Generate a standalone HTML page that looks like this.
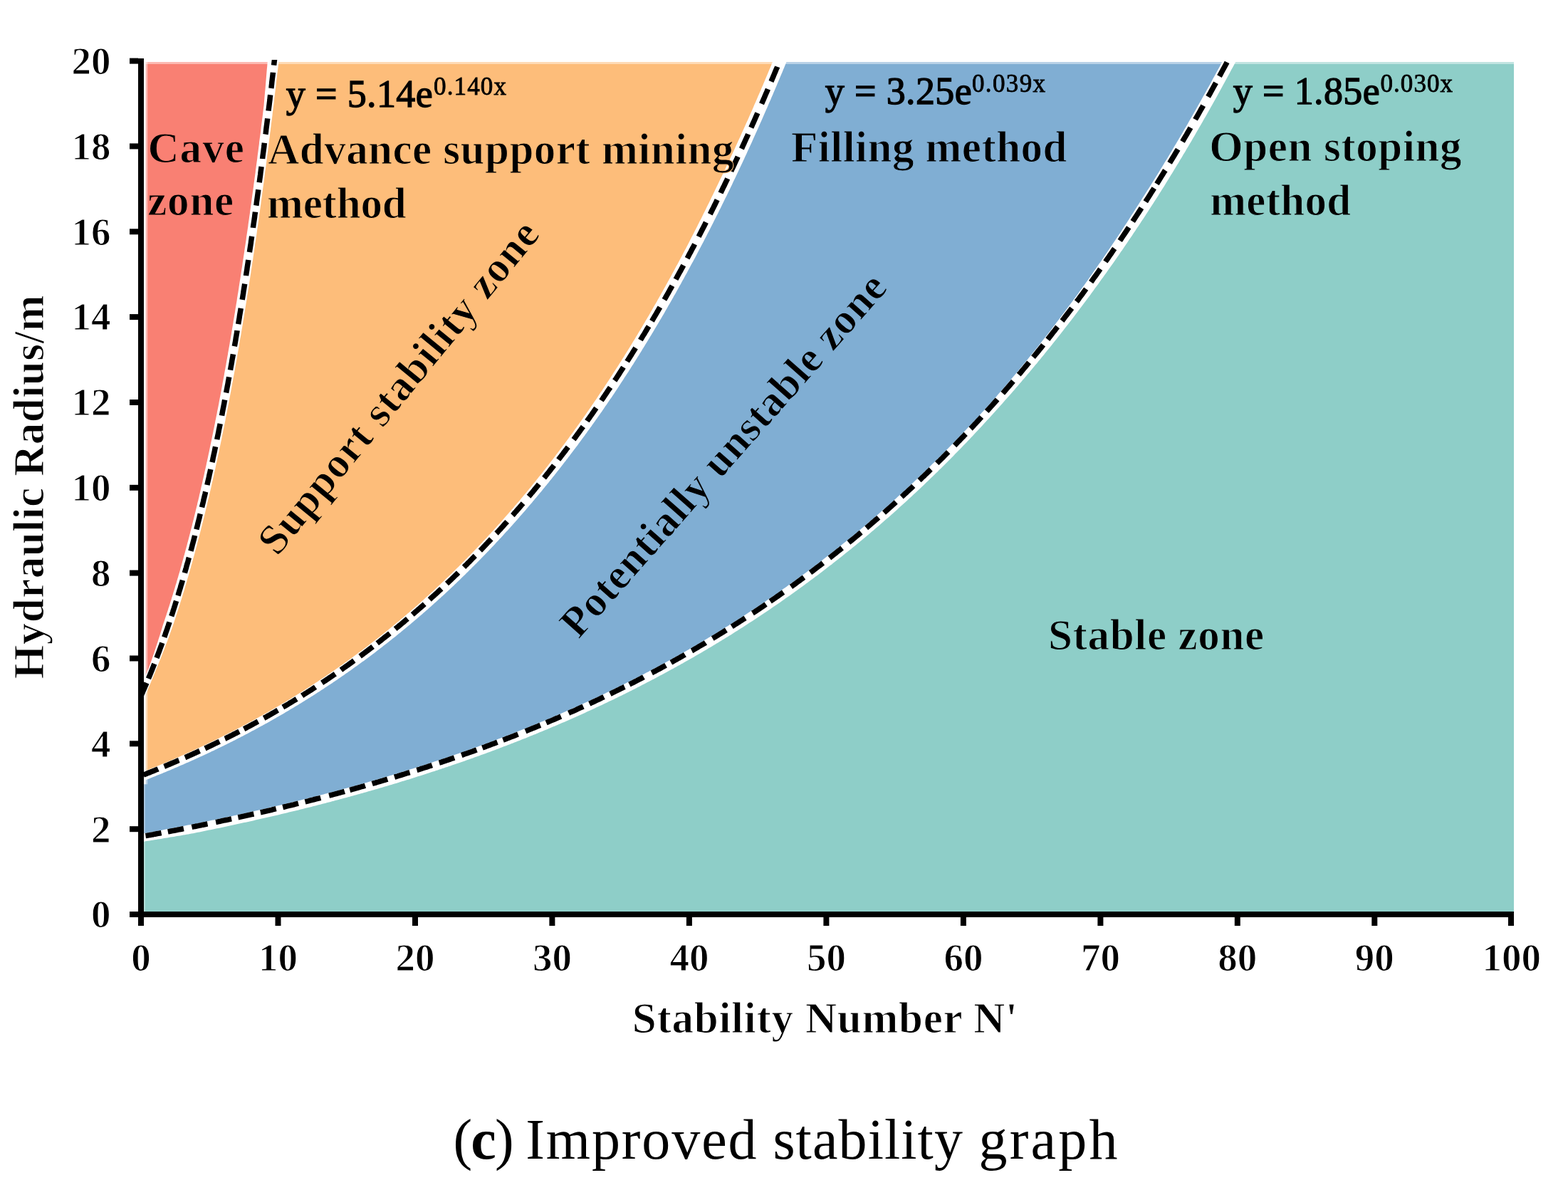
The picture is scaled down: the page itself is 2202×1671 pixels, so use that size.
<!DOCTYPE html>
<html><head><meta charset="utf-8"><title>Improved stability graph</title>
<style>html,body{margin:0;padding:0;background:#fff;}svg{display:block;filter:blur(0.6px);}</style>
</head><body>
<svg xmlns="http://www.w3.org/2000/svg" width="2202" height="1671" viewBox="0 0 2202 1671">
<defs><clipPath id="pc"><rect x="202.0" y="87.0" width="1924.0" height="1193.0"/></clipPath>
<clipPath id="dc"><rect x="198" y="84" width="1930" height="1200"/></clipPath></defs>
<rect width="100%" height="100%" fill="#fff"/>
<g clip-path="url(#pc)">
<polygon fill="#F98073" points="162.0,998.6 182.3,998.6 182.6,998.0 182.9,997.4 183.2,996.8 183.5,996.2 183.8,995.6 184.0,995.0 184.3,994.4 184.6,993.8 184.9,993.2 185.2,992.6 185.5,992.0 185.8,991.4 186.1,990.8 186.3,990.2 186.6,989.6 186.9,988.9 187.2,988.3 187.5,987.7 187.8,987.1 188.1,986.5 188.4,985.9 188.6,985.2 188.9,984.6 189.2,984.0 189.5,983.4 189.8,982.8 190.1,982.1 190.4,981.5 190.7,980.9 190.9,980.2 191.2,979.6 191.5,979.0 191.8,978.3 192.1,977.7 192.4,977.1 192.7,976.4 193.0,975.8 193.2,975.2 193.5,974.5 193.8,973.9 194.1,973.2 194.4,972.6 194.7,971.9 195.0,971.3 195.3,970.6 195.5,970.0 195.8,969.3 196.1,968.7 196.4,968.0 196.7,967.4 197.0,966.7 197.3,966.0 197.6,965.4 197.8,964.7 198.1,964.1 198.4,963.4 198.7,962.7 199.0,962.1 199.3,961.4 199.6,960.7 199.9,960.0 200.1,959.4 200.4,958.7 200.7,958.0 201.0,957.3 201.3,956.7 201.6,956.0 201.9,955.3 202.2,954.6 202.4,953.9 202.7,953.2 203.0,952.5 203.3,951.9 203.6,951.2 203.9,950.5 204.2,949.8 204.5,949.1 204.7,948.4 205.0,947.7 205.3,947.0 205.6,946.3 205.9,945.6 206.2,944.9 206.5,944.2 206.8,943.5 207.0,942.7 207.3,942.0 207.6,941.3 207.9,940.6 208.2,939.9 208.5,939.2 208.8,938.5 209.0,937.7 209.3,937.0 209.6,936.3 209.8,935.5 210.1,934.8 210.4,934.1 210.6,933.3 210.9,932.6 211.2,931.8 211.4,931.1 211.7,930.4 211.9,929.6 212.2,928.9 212.5,928.1 212.7,927.4 213.0,926.6 213.3,925.8 213.5,925.1 213.8,924.3 214.0,923.6 214.3,922.8 214.6,922.1 214.8,921.3 215.1,920.5 215.3,919.8 215.6,919.0 215.9,918.2 216.1,917.4 216.4,916.7 216.7,915.9 216.9,915.1 217.2,914.3 217.4,913.6 217.7,912.8 218.0,912.0 218.2,911.2 218.5,910.4 218.7,909.6 219.0,908.8 219.3,908.1 219.5,907.3 219.8,906.5 220.0,905.7 220.3,904.9 220.6,904.1 220.8,903.3 221.1,902.5 221.3,901.7 221.6,900.9 221.9,900.1 222.1,899.2 222.4,898.4 222.6,897.6 222.9,896.8 223.2,896.0 223.4,895.2 223.7,894.4 223.9,893.5 224.2,892.7 224.5,891.9 224.7,891.1 225.0,890.2 225.2,889.4 225.5,888.6 225.8,887.7 226.0,886.9 226.3,886.1 226.5,885.2 226.8,884.4 227.1,883.5 227.3,882.7 227.6,881.9 227.8,881.0 228.1,880.2 228.3,879.3 228.6,878.5 228.9,877.6 229.1,876.8 229.4,875.9 229.7,875.1 230.0,874.2 230.3,873.3 230.6,872.5 230.9,871.6 231.2,870.8 231.4,869.9 231.7,869.1 232.0,868.2 232.3,867.3 232.6,866.5 232.9,865.6 233.2,864.7 233.5,863.8 233.8,863.0 234.0,862.1 234.3,861.2 234.6,860.3 234.9,859.4 235.2,858.6 235.5,857.7 235.8,856.8 236.1,855.9 236.3,855.0 236.6,854.1 236.9,853.2 237.2,852.3 237.5,851.4 237.8,850.5 238.1,849.6 238.4,848.7 238.6,847.8 238.9,846.9 239.2,846.0 239.5,845.1 239.8,844.1 240.1,843.2 240.4,842.3 240.7,841.4 240.9,840.5 241.2,839.5 241.5,838.6 241.8,837.7 242.1,836.8 242.4,835.8 242.7,834.9 243.0,833.9 243.2,833.0 243.5,832.1 243.8,831.1 244.1,830.2 244.4,829.2 244.7,828.3 245.0,827.3 245.3,826.4 245.6,825.4 245.8,824.5 246.1,823.5 246.4,822.5 246.7,821.6 247.0,820.6 247.3,819.7 247.6,818.7 247.9,817.7 248.1,816.7 248.4,815.8 248.7,814.8 249.0,813.8 249.3,812.8 249.6,811.8 249.9,810.9 250.2,809.9 250.4,808.9 250.7,807.9 251.0,806.9 251.3,805.9 251.6,804.9 251.9,803.9 252.2,802.9 252.5,801.9 252.8,800.9 253.0,799.9 253.3,798.9 253.6,797.8 253.9,796.8 254.2,795.8 254.5,794.8 254.8,793.8 255.1,792.8 255.3,791.7 255.6,790.7 255.9,789.7 256.2,788.6 256.5,787.6 256.8,786.6 257.1,785.5 257.4,784.5 257.6,783.4 257.9,782.4 258.2,781.3 258.5,780.3 258.8,779.2 259.1,778.2 259.4,777.1 259.7,776.1 260.0,775.0 260.2,773.9 260.5,772.9 260.8,771.8 261.1,770.7 261.4,769.7 261.7,768.6 262.0,767.5 262.3,766.4 262.5,765.4 262.8,764.3 263.1,763.2 263.4,762.1 263.7,761.0 264.0,759.9 264.3,758.8 264.6,757.7 264.9,756.6 265.1,755.5 265.4,754.4 265.7,753.3 266.0,752.2 266.3,751.1 266.6,750.0 266.9,748.8 267.2,747.7 267.4,746.6 267.7,745.5 268.0,744.4 268.3,743.2 268.6,742.1 268.9,741.0 269.2,739.8 269.5,738.7 269.8,737.5 270.0,736.4 270.3,735.3 270.6,734.1 270.9,733.0 271.2,731.8 271.5,730.6 271.8,729.5 272.1,728.3 272.3,727.2 272.6,726.0 272.9,724.8 273.2,723.7 273.5,722.5 273.8,721.3 274.1,720.1 274.4,719.0 274.7,717.8 274.9,716.6 275.2,715.4 275.5,714.2 275.8,713.0 276.1,711.8 276.4,710.6 276.7,709.4 277.0,708.2 277.2,707.0 277.5,705.8 277.8,704.6 278.1,703.4 278.4,702.2 278.7,701.0 279.0,699.7 279.3,698.5 279.6,697.3 279.8,696.1 280.1,694.8 280.4,693.6 280.7,692.4 281.0,691.1 281.3,689.9 281.6,688.6 281.9,687.4 282.2,686.1 282.4,684.9 282.7,683.6 283.0,682.4 283.3,681.1 283.6,679.9 283.9,678.6 284.2,677.3 284.5,676.0 284.7,674.8 285.0,673.5 285.3,672.2 285.6,670.9 285.9,669.7 286.2,668.4 286.5,667.1 286.8,665.8 287.1,664.5 287.3,663.2 287.6,661.9 287.9,660.6 288.2,659.3 288.5,658.0 288.8,656.7 289.1,655.3 289.4,654.0 289.7,652.7 289.9,651.4 290.2,650.1 290.5,648.7 290.8,647.4 291.1,646.1 291.4,644.7 291.7,643.4 292.0,642.1 292.2,640.7 292.5,639.4 292.8,638.0 293.1,636.7 293.4,635.3 293.7,633.9 294.0,632.6 294.3,631.2 294.6,629.8 294.8,628.5 295.1,627.1 295.4,625.7 295.7,624.3 296.0,623.0 296.3,621.6 296.6,620.2 296.9,618.8 297.2,617.4 297.4,616.0 297.7,614.6 298.0,613.2 298.3,611.8 298.6,610.4 298.9,609.0 299.2,607.6 299.5,606.1 299.7,604.7 300.0,603.3 300.3,601.9 300.6,600.4 300.9,599.0 301.2,597.6 301.5,596.1 301.8,594.7 302.1,593.2 302.3,591.8 302.6,590.3 302.9,588.9 303.2,587.4 303.5,586.0 303.8,584.5 304.1,583.0 304.4,581.6 304.7,580.1 304.9,578.6 305.2,577.1 305.5,575.7 305.8,574.2 306.1,572.7 306.4,571.2 306.7,569.7 307.0,568.2 307.3,566.7 307.5,565.2 307.8,563.7 308.1,562.2 308.4,560.7 308.7,559.1 309.0,557.6 309.3,556.1 309.6,554.6 309.9,553.0 310.1,551.5 310.4,550.0 310.7,548.4 311.0,546.9 311.3,545.3 311.6,543.8 311.9,542.2 312.2,540.7 312.4,539.1 312.7,537.6 313.0,536.0 313.3,534.4 313.6,532.8 313.9,531.3 314.2,529.7 314.5,528.1 314.8,526.5 315.0,524.9 315.3,523.3 315.6,521.7 315.9,520.1 316.2,518.5 316.5,516.9 316.8,515.3 317.1,513.7 317.4,512.1 317.6,510.5 317.9,508.9 318.2,507.2 318.5,505.6 318.8,504.0 319.1,502.3 319.4,500.7 319.7,499.0 320.0,497.4 320.2,495.7 320.5,494.1 320.8,492.4 321.1,490.8 321.4,489.1 321.7,487.4 322.0,485.8 322.3,484.1 322.6,482.4 322.8,480.7 323.1,479.0 323.4,477.4 323.7,475.7 324.0,474.0 324.3,472.3 324.6,470.6 324.9,468.9 325.2,467.1 325.4,465.4 325.7,463.7 326.0,462.0 326.3,460.3 326.6,458.5 326.9,456.8 327.2,455.1 327.5,453.3 327.7,451.6 328.0,449.8 328.3,448.1 328.6,446.3 328.9,444.6 329.2,442.8 329.5,441.0 329.8,439.3 330.1,437.5 330.3,435.7 330.6,433.9 330.9,432.1 331.2,430.4 331.5,428.6 331.8,426.8 332.1,425.0 332.4,423.2 332.7,421.4 332.9,419.5 333.2,417.7 333.5,415.9 333.8,414.1 334.1,412.3 334.4,410.4 334.7,408.6 335.0,406.8 335.3,404.9 335.5,403.1 335.8,401.2 336.1,399.4 336.4,397.5 336.7,395.6 337.0,393.8 337.3,391.9 337.6,390.0 337.9,388.2 338.1,386.3 338.4,384.4 338.7,382.5 339.0,380.6 339.3,378.7 339.6,376.8 339.9,374.9 340.2,373.0 340.5,371.1 340.7,369.2 341.0,367.2 341.3,365.3 341.6,363.4 341.9,361.5 342.2,359.5 342.5,357.6 342.8,355.6 343.1,353.7 343.3,351.7 343.6,349.8 343.9,347.8 344.2,345.8 344.5,343.9 344.8,341.9 345.1,339.9 345.4,337.9 345.7,335.9 345.9,334.0 346.2,332.0 346.5,330.0 346.8,328.0 347.1,325.9 347.4,323.9 347.7,321.9 348.0,319.9 348.3,317.9 348.5,315.8 348.8,313.8 349.1,311.8 349.4,309.7 349.7,307.7 350.0,305.6 350.3,303.6 350.6,301.5 350.9,299.4 351.1,297.4 351.4,295.3 351.7,293.2 352.0,291.1 352.3,289.1 352.6,287.0 352.9,284.9 353.2,282.8 353.5,280.7 353.7,278.6 354.0,276.4 354.3,274.3 354.6,272.2 354.9,270.1 355.2,268.0 355.5,265.8 355.8,263.7 356.1,261.5 356.3,259.4 356.6,257.2 356.9,255.1 357.2,252.9 357.5,250.7 357.8,248.6 358.1,246.4 358.4,244.2 358.7,242.0 358.9,239.8 359.2,237.6 359.5,235.4 359.8,233.2 360.1,231.0 360.4,228.8 360.7,226.6 361.0,224.4 361.3,222.2 361.5,219.9 361.8,217.7 362.1,215.4 362.4,213.2 362.7,211.0 363.0,208.7 363.3,206.4 363.6,204.2 363.9,201.9 364.1,199.6 364.4,197.3 364.7,195.1 365.0,192.8 365.3,190.5 365.6,188.2 365.9,185.9 366.2,183.6 366.5,181.3 366.7,178.9 367.0,176.6 367.3,174.3 367.6,172.0 367.9,169.6 368.2,167.3 368.5,164.9 368.8,162.6 369.1,160.2 369.3,157.9 369.6,155.5 369.9,153.1 370.2,150.7 370.5,148.4 370.7,146.0 370.9,143.6 371.1,141.2 371.3,138.7 371.5,136.3 371.7,133.9 371.9,131.5 372.1,129.0 372.4,126.6 372.6,124.2 372.8,121.7 373.0,119.3 373.2,116.8 373.4,114.3 373.6,111.9 373.8,109.4 374.0,106.9 374.2,104.4 374.4,101.9 374.6,99.5 374.8,97.0 375.1,94.5 375.3,91.9 375.5,89.4 375.7,86.9 375.9,84.4 376.1,81.8 376.3,79.3 376.5,76.8 376.7,74.2 376.9,71.7 377.1,69.1 377.3,66.6 377.5,64.0 377.7,61.4 377.9,58.8 378.1,56.2 378.3,53.7 378.5,51.1 378.7,48.5 378.7,57.0 162.0,57.0"/>
<polygon fill="#FDBD7A" points="162.0,1003.1 191.6,1003.1 191.9,1002.5 192.2,1001.9 192.5,1001.3 192.7,1000.7 193.0,1000.1 193.3,999.5 193.6,998.8 193.9,998.2 194.2,997.6 194.5,997.0 194.8,996.4 195.1,995.8 195.4,995.2 195.7,994.6 195.9,993.9 196.2,993.3 196.5,992.7 196.8,992.1 197.1,991.5 197.4,990.8 197.7,990.2 198.0,989.6 198.3,989.0 198.6,988.3 198.9,987.7 199.1,987.1 199.4,986.4 199.7,985.8 200.0,985.2 200.3,984.5 200.6,983.9 200.9,983.2 201.2,982.6 201.5,982.0 201.8,981.3 202.1,980.7 202.3,980.0 202.6,979.4 202.9,978.7 203.2,978.1 203.5,977.4 203.8,976.8 204.1,976.1 204.4,975.5 204.7,974.8 205.0,974.1 205.3,973.5 205.5,972.8 205.8,972.2 206.1,971.5 206.4,970.8 206.7,970.2 207.0,969.5 207.3,968.8 207.6,968.1 207.9,967.5 208.2,966.8 208.5,966.1 208.7,965.4 209.0,964.8 209.3,964.1 209.6,963.4 209.9,962.7 210.2,962.0 210.5,961.4 210.8,960.7 211.1,960.0 211.4,959.3 211.7,958.6 211.9,957.9 212.2,957.2 212.5,956.5 212.8,955.8 213.1,955.1 213.4,954.4 213.7,953.7 214.0,953.0 214.3,952.3 214.6,951.6 214.8,950.9 215.1,950.2 215.4,949.5 215.7,948.8 216.0,948.0 216.3,947.3 216.6,946.6 216.9,945.9 217.2,945.2 217.5,944.5 217.8,943.7 218.0,943.0 218.3,942.3 218.6,941.6 218.9,940.8 219.2,940.1 219.5,939.4 219.8,938.7 220.1,937.9 220.4,937.2 220.7,936.5 221.0,935.7 221.3,935.0 221.7,934.3 222.0,933.5 222.3,932.8 222.6,932.0 222.9,931.3 223.2,930.5 223.5,929.8 223.8,929.0 224.1,928.3 224.4,927.5 224.7,926.8 225.0,926.0 225.3,925.3 225.6,924.5 225.9,923.8 226.2,923.0 226.5,922.2 226.8,921.5 227.1,920.7 227.4,919.9 227.7,919.2 228.0,918.4 228.3,917.6 228.6,916.8 228.9,916.1 229.2,915.3 229.5,914.5 229.8,913.7 230.1,912.9 230.4,912.2 230.7,911.4 231.0,910.6 231.3,909.8 231.6,909.0 231.9,908.2 232.2,907.4 232.5,906.6 232.8,905.8 233.1,905.0 233.4,904.2 233.8,903.4 234.1,902.6 234.4,901.8 234.7,901.0 235.0,900.2 235.3,899.4 235.6,898.6 235.9,897.8 236.2,896.9 236.5,896.1 236.8,895.3 237.1,894.5 237.4,893.7 237.7,892.8 238.0,892.0 238.3,891.2 238.6,890.3 238.9,889.5 239.2,888.7 239.5,887.8 239.8,887.0 240.1,886.2 240.4,885.3 240.7,884.5 241.0,883.6 241.3,882.8 241.6,881.9 241.9,881.1 242.2,880.2 242.5,879.4 242.8,878.5 243.1,877.7 243.4,876.8 243.7,875.9 244.0,875.1 244.3,874.2 244.5,873.3 244.8,872.4 245.1,871.6 245.4,870.7 245.7,869.8 246.0,868.9 246.3,868.1 246.6,867.2 246.9,866.3 247.2,865.4 247.4,864.5 247.7,863.6 248.0,862.7 248.3,861.8 248.6,860.9 248.9,860.0 249.2,859.1 249.5,858.2 249.8,857.3 250.1,856.4 250.4,855.5 250.6,854.6 250.9,853.7 251.2,852.8 251.5,851.9 251.8,851.0 252.1,850.0 252.4,849.1 252.7,848.2 253.0,847.3 253.3,846.3 253.5,845.4 253.8,844.5 254.1,843.5 254.4,842.6 254.7,841.7 255.0,840.7 255.3,839.8 255.6,838.9 255.9,837.9 256.2,837.0 256.4,836.0 256.7,835.1 257.0,834.1 257.3,833.2 257.6,832.2 257.9,831.2 258.2,830.3 258.5,829.3 258.8,828.4 259.1,827.4 259.3,826.4 259.6,825.4 259.9,824.5 260.2,823.5 260.5,822.5 260.8,821.5 261.1,820.6 261.4,819.6 261.7,818.6 262.0,817.6 262.3,816.6 262.5,815.6 262.8,814.6 263.1,813.6 263.4,812.6 263.7,811.6 264.0,810.6 264.3,809.6 264.6,808.6 264.9,807.6 265.2,806.6 265.4,805.6 265.7,804.6 266.0,803.6 266.3,802.6 266.6,801.5 266.9,800.5 267.2,799.5 267.5,798.5 267.8,797.4 268.1,796.4 268.3,795.4 268.6,794.3 268.9,793.3 269.2,792.3 269.5,791.2 269.8,790.2 270.1,789.1 270.4,788.1 270.7,787.0 271.0,786.0 271.2,784.9 271.5,783.9 271.8,782.8 272.1,781.7 272.4,780.7 272.7,779.6 273.0,778.5 273.3,777.5 273.6,776.4 273.9,775.3 274.1,774.2 274.4,773.2 274.7,772.1 275.0,771.0 275.3,769.9 275.6,768.8 275.9,767.7 276.2,766.6 276.5,765.5 276.8,764.4 277.0,763.3 277.3,762.2 277.6,761.1 277.9,760.0 278.2,758.9 278.5,757.8 278.8,756.7 279.1,755.6 279.4,754.5 279.7,753.3 279.9,752.2 280.2,751.1 280.5,750.0 280.8,748.8 281.1,747.7 281.4,746.6 281.7,745.4 282.0,744.3 282.3,743.1 282.6,742.0 282.8,740.8 283.1,739.7 283.4,738.5 283.7,737.4 284.0,736.2 284.3,735.1 284.6,733.9 284.9,732.7 285.2,731.6 285.5,730.4 285.7,729.2 286.0,728.1 286.3,726.9 286.6,725.7 286.9,724.5 287.2,723.3 287.5,722.2 287.8,721.0 288.1,719.8 288.4,718.6 288.6,717.4 288.9,716.2 289.2,715.0 289.5,713.8 289.8,712.6 290.1,711.4 290.4,710.2 290.7,708.9 291.0,707.7 291.2,706.5 291.5,705.3 291.8,704.1 292.1,702.8 292.4,701.6 292.7,700.4 293.0,699.1 293.3,697.9 293.6,696.7 293.9,695.4 294.1,694.2 294.4,692.9 294.7,691.7 295.0,690.4 295.3,689.2 295.6,687.9 295.9,686.7 296.2,685.4 296.5,684.1 296.8,682.9 297.0,681.6 297.3,680.3 297.6,679.0 297.9,677.8 298.2,676.5 298.5,675.2 298.8,673.9 299.1,672.6 299.4,671.3 299.7,670.0 299.9,668.7 300.2,667.4 300.5,666.1 300.8,664.8 301.1,663.5 301.4,662.2 301.7,660.9 302.0,659.6 302.3,658.2 302.6,656.9 302.8,655.6 303.1,654.3 303.4,652.9 303.7,651.6 304.0,650.3 304.3,648.9 304.6,647.6 304.9,646.2 305.2,644.9 305.4,643.5 305.7,642.2 306.0,640.8 306.3,639.5 306.6,638.1 306.9,636.7 307.2,635.4 307.5,634.0 307.8,632.6 308.1,631.2 308.3,629.9 308.6,628.5 308.9,627.1 309.2,625.7 309.5,624.3 309.8,622.9 310.1,621.5 310.4,620.1 310.7,618.7 311.0,617.3 311.2,615.9 311.5,614.5 311.8,613.1 312.1,611.7 312.4,610.2 312.7,608.8 313.0,607.4 313.3,606.0 313.6,604.5 313.8,603.1 314.1,601.7 314.4,600.2 314.7,598.8 315.0,597.3 315.3,595.9 315.6,594.4 315.9,593.0 316.2,591.5 316.5,590.0 316.7,588.6 317.0,587.1 317.3,585.6 317.6,584.2 317.9,582.7 318.2,581.2 318.5,579.7 318.8,578.2 319.1,576.7 319.4,575.2 319.6,573.7 319.9,572.2 320.2,570.7 320.5,569.2 320.8,567.7 321.1,566.2 321.4,564.7 321.7,563.2 322.0,561.7 322.2,560.1 322.5,558.6 322.8,557.1 323.1,555.5 323.4,554.0 323.7,552.5 324.0,550.9 324.3,549.4 324.6,547.8 324.9,546.3 325.1,544.7 325.4,543.1 325.7,541.6 326.0,540.0 326.3,538.4 326.6,536.9 326.9,535.3 327.2,533.7 327.5,532.1 327.7,530.5 328.0,528.9 328.3,527.3 328.6,525.7 328.9,524.1 329.2,522.5 329.5,520.9 329.8,519.3 330.1,517.7 330.4,516.1 330.6,514.5 330.9,512.8 331.2,511.2 331.5,509.6 331.8,507.9 332.1,506.3 332.4,504.7 332.7,503.0 333.0,501.4 333.3,499.7 333.5,498.1 333.8,496.4 334.1,494.7 334.4,493.1 334.7,491.4 335.0,489.7 335.3,488.1 335.6,486.4 335.9,484.7 336.1,483.0 336.4,481.3 336.7,479.6 337.0,477.9 337.3,476.2 337.6,474.5 337.9,472.8 338.2,471.1 338.5,469.4 338.8,467.7 339.0,465.9 339.3,464.2 339.6,462.5 339.9,460.8 340.2,459.0 340.5,457.3 340.8,455.5 341.1,453.8 341.4,452.0 341.6,450.3 341.9,448.5 342.2,446.7 342.5,445.0 342.8,443.2 343.1,441.4 343.4,439.7 343.7,437.9 344.0,436.1 344.3,434.3 344.5,432.5 344.8,430.7 345.1,428.9 345.4,427.1 345.7,425.3 346.0,423.5 346.3,421.7 346.6,419.9 346.9,418.0 347.1,416.2 347.4,414.4 347.7,412.5 348.0,410.7 348.3,408.9 348.6,407.0 348.9,405.2 349.2,403.3 349.5,401.4 349.8,399.6 350.0,397.7 350.3,395.8 350.6,394.0 350.9,392.1 351.2,390.2 351.5,388.3 351.8,386.4 352.1,384.5 352.4,382.6 352.6,380.7 352.9,378.8 353.2,376.9 353.5,375.0 353.8,373.1 354.1,371.2 354.4,369.3 354.7,367.3 355.0,365.4 355.3,363.4 355.5,361.5 355.8,359.6 356.1,357.6 356.4,355.7 356.7,353.7 357.0,351.7 357.3,349.8 357.6,347.8 357.9,345.8 358.1,343.8 358.4,341.9 358.7,339.9 359.0,337.9 359.3,335.9 359.6,333.9 359.9,331.9 360.2,329.9 360.5,327.9 360.8,325.8 361.0,323.8 361.3,321.8 361.6,319.8 361.9,317.7 362.2,315.7 362.5,313.7 362.8,311.6 363.1,309.6 363.4,307.5 363.6,305.4 363.9,303.4 364.2,301.3 364.5,299.2 364.8,297.2 365.1,295.1 365.4,293.0 365.7,290.9 366.0,288.8 366.3,286.7 366.5,284.6 366.8,282.5 367.1,280.4 367.4,278.3 367.7,276.2 368.0,274.0 368.3,271.9 368.6,269.8 368.9,267.6 369.1,265.5 369.4,263.3 369.7,261.2 370.0,259.0 370.3,256.9 370.6,254.7 370.9,252.5 371.2,250.4 371.5,248.2 371.7,246.0 372.0,243.8 372.3,241.6 372.6,239.4 372.9,237.2 373.2,235.0 373.5,232.8 373.8,230.6 374.1,228.3 374.4,226.1 374.6,223.9 374.9,221.7 375.2,219.4 375.5,217.2 375.8,214.9 376.1,212.7 376.4,210.4 376.7,208.1 377.0,205.9 377.2,203.6 377.5,201.3 377.8,199.0 378.1,196.8 378.4,194.5 378.7,192.2 379.0,189.9 379.3,187.6 379.6,185.2 379.9,182.9 380.1,180.6 380.4,178.3 380.7,176.0 381.0,173.6 381.3,171.3 381.6,168.9 381.9,166.6 382.2,164.2 382.5,161.9 382.7,159.5 383.0,157.1 383.3,154.7 383.6,152.4 383.9,150.0 384.2,147.6 384.5,145.2 384.8,142.8 385.1,140.4 385.3,138.0 385.6,135.6 385.9,133.1 386.2,130.7 386.5,128.3 386.8,125.8 387.1,123.4 387.4,121.0 387.7,118.5 388.0,116.1 388.2,113.6 388.5,111.1 388.8,108.7 389.1,106.2 389.4,103.7 389.7,101.2 390.0,98.7 390.3,96.2 390.6,93.7 390.8,91.2 391.1,88.7 391.4,86.2 391.7,83.6 392.0,81.1 392.3,78.6 392.6,76.0 392.9,73.5 393.2,70.9 393.4,68.4 393.7,65.8 394.0,63.2 394.3,60.7 394.6,58.1 394.9,55.5 395.2,52.9 395.5,50.3 395.5,57.0 1108.4,57.0 1108.4,29.0 1107.1,32.4 1105.7,35.8 1104.4,39.1 1103.1,42.4 1101.8,45.7 1100.4,49.1 1099.1,52.4 1097.8,55.7 1096.4,59.0 1095.1,62.2 1093.8,65.5 1092.5,68.8 1091.1,72.0 1089.8,75.2 1088.5,78.5 1087.2,81.7 1085.8,84.9 1084.5,88.1 1083.2,91.3 1081.9,94.5 1080.5,97.7 1079.2,100.8 1077.9,104.0 1076.6,107.1 1075.2,110.3 1073.9,113.4 1072.6,116.5 1071.3,119.7 1069.9,122.8 1068.6,125.9 1067.3,129.0 1066.0,132.0 1064.6,135.1 1063.3,138.2 1062.0,141.2 1060.7,144.3 1059.3,147.3 1058.0,150.4 1056.7,153.4 1055.4,156.4 1054.0,159.4 1052.7,162.4 1051.4,165.4 1050.1,168.4 1048.7,171.4 1047.4,174.3 1046.1,177.3 1044.8,180.3 1043.4,183.2 1042.1,186.1 1040.8,189.1 1039.5,192.0 1038.1,194.9 1036.8,197.8 1035.5,200.7 1034.2,203.6 1032.8,206.5 1031.5,209.4 1030.2,212.2 1028.9,215.1 1027.5,218.0 1026.2,220.8 1024.9,223.6 1023.6,226.5 1022.2,229.3 1020.9,232.1 1019.6,234.9 1018.3,237.7 1016.9,240.5 1015.6,243.3 1014.3,246.1 1013.0,248.8 1011.6,251.6 1010.3,254.3 1009.0,257.1 1007.7,259.8 1006.3,262.6 1005.0,265.3 1003.7,268.0 1002.4,270.7 1001.1,273.4 999.8,276.1 998.5,278.8 997.2,281.5 995.9,284.2 994.5,286.9 993.2,289.5 991.9,292.2 990.6,294.9 989.3,297.5 988.0,300.1 986.7,302.8 985.4,305.4 984.1,308.0 982.7,310.6 981.4,313.2 980.1,315.8 978.8,318.4 977.5,321.0 976.2,323.6 974.9,326.1 973.6,328.7 972.2,331.3 970.9,333.8 969.6,336.3 968.3,338.9 967.0,341.4 965.7,343.9 964.4,346.4 963.1,348.9 961.7,351.4 960.4,353.9 959.1,356.4 957.8,358.9 956.5,361.4 955.2,363.8 953.9,366.3 952.6,368.8 951.3,371.2 949.9,373.6 948.6,376.1 947.3,378.5 946.0,380.9 944.7,383.3 943.4,385.8 942.1,388.2 940.8,390.5 939.4,392.9 938.1,395.3 936.8,397.7 935.5,400.1 934.2,402.4 932.9,404.8 931.6,407.1 930.3,409.5 928.9,411.8 927.6,414.2 926.3,416.5 925.0,418.8 923.7,421.1 922.4,423.4 921.1,425.7 919.7,428.0 918.4,430.3 917.1,432.6 915.8,434.9 914.5,437.1 913.2,439.4 911.9,441.7 910.6,443.9 909.2,446.2 907.9,448.4 906.6,450.6 905.3,452.9 904.0,455.1 902.7,457.3 901.4,459.5 900.0,461.7 898.7,463.9 897.4,466.1 896.1,468.3 894.8,470.5 893.5,472.6 892.2,474.8 890.9,477.0 889.5,479.1 888.2,481.3 886.9,483.4 885.6,485.6 884.3,487.7 883.0,489.8 881.7,492.0 880.3,494.1 879.0,496.2 877.7,498.3 876.4,500.4 875.1,502.5 873.8,504.6 872.5,506.7 871.1,508.8 869.8,510.8 868.5,512.9 867.2,515.0 865.9,517.0 864.6,519.1 863.3,521.1 861.9,523.1 860.6,525.2 859.3,527.2 858.0,529.2 856.7,531.3 855.4,533.3 854.1,535.3 852.7,537.3 851.4,539.3 850.1,541.3 848.8,543.2 847.5,545.2 846.2,547.2 844.9,549.2 843.5,551.1 842.2,553.1 840.9,555.1 839.6,557.0 838.3,558.9 837.0,560.9 835.7,562.8 834.3,564.7 833.0,566.7 831.7,568.6 830.4,570.5 829.1,572.4 827.8,574.3 826.5,576.2 825.1,578.1 823.8,580.0 822.5,581.9 821.2,583.7 819.9,585.6 818.6,587.5 817.2,589.4 815.9,591.2 814.6,593.1 813.3,594.9 812.0,596.8 810.7,598.6 809.4,600.4 808.0,602.2 806.7,604.1 805.4,605.9 804.1,607.7 802.8,609.5 801.5,611.3 800.1,613.1 798.8,614.9 797.5,616.7 796.2,618.5 794.9,620.3 793.6,622.0 792.3,623.8 790.9,625.6 789.6,627.3 788.3,629.1 787.0,630.8 785.7,632.6 784.4,634.3 783.0,636.1 781.7,637.8 780.4,639.5 779.1,641.2 777.8,643.0 776.5,644.7 775.1,646.4 773.8,648.1 772.5,649.8 771.2,651.5 769.9,653.2 768.6,654.9 767.3,656.6 765.9,658.2 764.6,659.9 763.3,661.6 762.0,663.2 760.7,664.9 759.4,666.6 758.0,668.2 756.7,669.8 755.4,671.5 754.1,673.1 752.8,674.8 751.5,676.4 750.1,678.0 748.8,679.6 747.5,681.3 746.2,682.9 744.9,684.5 743.6,686.1 742.2,687.7 740.9,689.3 739.6,690.9 738.3,692.4 737.0,694.0 735.7,695.6 734.3,697.2 733.0,698.7 731.7,700.3 730.4,701.9 729.1,703.4 727.8,705.0 726.4,706.5 725.1,708.1 723.8,709.6 722.5,711.1 721.2,712.7 719.9,714.2 718.5,715.7 717.2,717.3 715.9,718.8 714.6,720.3 713.3,721.8 712.0,723.3 710.6,724.8 709.3,726.3 708.0,727.8 706.7,729.3 705.4,730.7 704.1,732.2 702.7,733.7 701.4,735.2 700.1,736.6 698.8,738.1 697.5,739.6 696.2,741.0 694.8,742.5 693.5,743.9 692.2,745.4 690.9,746.8 689.6,748.2 688.3,749.7 686.9,751.1 685.6,752.5 684.3,753.9 683.0,755.4 681.7,756.8 680.3,758.2 679.0,759.6 677.7,761.0 676.4,762.4 675.1,763.8 673.8,765.2 672.4,766.6 671.1,767.9 669.8,769.3 668.5,770.7 667.2,772.1 665.9,773.4 664.5,774.8 663.2,776.2 661.9,777.5 660.6,778.9 659.3,780.2 657.9,781.6 656.6,782.9 655.3,784.3 654.0,785.6 652.7,786.9 651.4,788.3 650.0,789.6 648.7,790.9 647.4,792.2 646.1,793.5 644.8,794.9 643.5,796.2 642.1,797.5 640.8,798.8 639.5,800.1 638.2,801.4 636.9,802.6 635.5,803.9 634.2,805.2 632.9,806.5 631.6,807.8 630.3,809.0 629.0,810.3 627.6,811.6 626.3,812.8 625.0,814.1 623.7,815.4 622.4,816.6 621.0,817.9 619.7,819.1 618.4,820.4 617.1,821.6 615.8,822.8 614.4,824.1 613.1,825.3 611.8,826.5 610.5,827.7 609.2,829.0 607.9,830.2 606.5,831.4 605.2,832.6 603.9,833.8 602.6,835.0 601.3,836.2 599.9,837.4 598.6,838.6 597.3,839.8 596.0,841.0 594.7,842.2 593.4,843.3 592.0,844.5 590.7,845.7 589.4,846.9 588.1,848.0 586.8,849.2 585.4,850.4 584.1,851.5 582.8,852.7 581.5,853.8 580.2,855.0 578.8,856.1 577.5,857.3 576.2,858.4 574.9,859.5 573.6,860.7 572.2,861.8 570.9,862.9 569.6,864.1 568.3,865.2 567.0,866.3 565.7,867.4 564.3,868.5 563.0,869.6 561.7,870.7 560.4,871.9 559.1,873.0 557.7,874.1 556.4,875.1 555.1,876.2 553.8,877.3 552.5,878.4 551.1,879.5 549.8,880.6 548.5,881.7 547.2,882.7 545.9,883.8 544.5,884.9 543.2,885.9 541.9,887.0 540.6,888.1 539.3,889.1 537.9,890.2 536.6,891.2 535.3,892.3 534.0,893.3 532.7,894.4 531.3,895.4 530.0,896.4 528.7,897.5 527.4,898.5 526.1,899.5 524.7,900.6 523.4,901.6 522.1,902.6 520.8,903.6 519.5,904.6 518.1,905.7 516.8,906.7 515.5,907.7 514.2,908.7 512.9,909.7 511.5,910.7 510.2,911.7 508.9,912.7 507.6,913.7 506.3,914.7 504.9,915.6 503.6,916.6 502.3,917.6 501.0,918.6 499.7,919.6 498.3,920.5 497.0,921.5 495.7,922.5 494.4,923.4 493.1,924.4 491.7,925.4 490.4,926.3 489.1,927.3 487.8,928.2 486.5,929.2 485.1,930.1 483.8,931.1 482.5,932.0 481.2,932.9 479.9,933.9 478.5,934.8 477.2,935.7 475.9,936.7 474.6,937.6 473.3,938.5 471.9,939.4 470.6,940.4 469.3,941.3 468.0,942.2 466.7,943.1 465.3,944.0 464.0,944.9 462.7,945.8 461.4,946.7 460.1,947.6 458.7,948.5 457.4,949.4 456.1,950.3 454.8,951.2 453.4,952.1 452.1,953.0 450.8,953.8 449.5,954.7 448.2,955.6 446.8,956.5 445.5,957.4 444.2,958.2 442.9,959.1 441.6,960.0 440.2,960.8 438.9,961.7 437.6,962.5 436.3,963.4 435.0,964.3 433.6,965.1 432.3,966.0 431.0,966.8 429.7,967.6 428.4,968.5 427.0,969.3 425.7,970.2 424.4,971.0 423.1,971.8 421.7,972.7 420.4,973.5 419.1,974.3 417.8,975.1 416.5,976.0 415.1,976.8 413.8,977.6 412.5,978.4 411.2,979.2 409.9,980.0 408.5,980.9 407.2,981.7 405.9,982.5 404.6,983.3 403.2,984.1 401.9,984.9 400.6,985.7 399.3,986.5 398.0,987.2 396.6,988.0 395.3,988.8 394.0,989.6 392.7,990.4 391.4,991.2 390.0,991.9 388.7,992.7 387.4,993.5 386.1,994.3 384.7,995.0 383.4,995.8 382.1,996.6 380.8,997.3 379.5,998.1 378.1,998.9 376.8,999.6 375.5,1000.4 374.2,1001.1 372.8,1001.9 371.5,1002.6 370.2,1003.4 368.9,1004.1 367.6,1004.9 366.2,1005.6 364.9,1006.3 363.6,1007.1 362.3,1007.8 360.9,1008.5 359.6,1009.3 358.3,1010.0 357.0,1010.7 355.7,1011.5 354.3,1012.2 353.0,1012.9 351.7,1013.6 350.4,1014.3 349.1,1015.1 347.7,1015.8 346.4,1016.5 345.1,1017.2 343.8,1017.9 342.4,1018.6 341.1,1019.3 339.8,1020.0 338.5,1020.7 337.2,1021.4 335.8,1022.1 334.5,1022.8 333.2,1023.5 331.9,1024.2 330.5,1024.9 329.2,1025.6 327.9,1026.2 326.6,1026.9 325.2,1027.6 323.9,1028.3 322.6,1029.0 321.3,1029.6 320.0,1030.3 318.6,1031.0 317.3,1031.6 316.0,1032.3 314.7,1033.0 313.3,1033.6 312.0,1034.3 310.7,1035.0 309.4,1035.6 308.1,1036.3 306.7,1036.9 305.4,1037.6 304.1,1038.2 302.8,1038.9 301.4,1039.5 300.1,1040.2 298.8,1040.8 297.5,1041.5 296.2,1042.1 294.8,1042.7 293.5,1043.4 292.2,1044.0 290.9,1044.7 289.5,1045.3 288.2,1045.9 286.9,1046.5 285.6,1047.2 284.2,1047.8 282.9,1048.4 281.6,1049.0 280.3,1049.7 279.0,1050.3 277.6,1050.9 276.3,1051.5 275.0,1052.1 273.7,1052.7 272.3,1053.3 271.0,1053.9 269.7,1054.5 268.4,1055.2 267.0,1055.8 265.7,1056.4 264.4,1057.0 263.1,1057.6 261.8,1058.1 260.4,1058.7 259.1,1059.3 257.8,1059.9 256.5,1060.5 255.1,1061.1 253.8,1061.7 252.5,1062.3 251.2,1062.9 249.8,1063.4 248.5,1064.0 247.2,1064.6 245.9,1065.2 244.5,1065.7 243.2,1066.3 241.9,1066.9 240.6,1067.5 239.3,1068.0 237.9,1068.6 236.6,1069.2 235.3,1069.7 234.0,1070.3 232.6,1070.8 231.3,1071.4 230.0,1072.0 228.7,1072.5 227.3,1073.1 226.0,1073.6 224.7,1074.2 223.4,1074.7 222.0,1075.3 220.7,1075.8 219.4,1076.4 218.1,1076.9 216.8,1077.4 215.4,1078.0 214.1,1078.5 212.8,1079.1 211.5,1079.6 210.1,1080.1 208.8,1080.7 207.5,1081.2 206.1,1081.7 204.8,1082.3 203.5,1082.8 202.2,1083.3 200.9,1083.9 199.5,1084.4 198.2,1084.9 196.9,1085.5 195.6,1086.0 194.2,1086.5 192.9,1087.0 191.6,1087.5 190.3,1088.1 188.9,1088.6 187.6,1089.1 186.3,1089.6 185.0,1090.1 162.0,1090.1"/>
<polygon fill="#80AED3" points="162.0,1101.3 189.3,1101.3 190.6,1100.7 191.9,1100.2 193.3,1099.7 194.6,1099.2 195.9,1098.7 197.3,1098.1 198.6,1097.6 199.9,1097.1 201.3,1096.6 202.6,1096.1 203.9,1095.5 205.3,1095.0 206.6,1094.5 208.0,1093.9 209.3,1093.4 210.6,1092.9 212.0,1092.3 213.3,1091.8 214.6,1091.3 215.9,1090.7 217.3,1090.2 218.6,1089.7 219.9,1089.1 221.3,1088.6 222.6,1088.0 224.0,1087.5 225.3,1087.0 226.6,1086.4 228.0,1085.9 229.3,1085.3 230.6,1084.8 232.0,1084.2 233.3,1083.7 234.6,1083.1 236.0,1082.5 237.3,1082.0 238.7,1081.4 240.0,1080.9 241.3,1080.3 242.7,1079.7 244.0,1079.2 245.3,1078.6 246.7,1078.0 248.0,1077.4 249.3,1076.9 250.7,1076.3 252.0,1075.7 253.4,1075.1 254.7,1074.6 256.0,1074.0 257.4,1073.4 258.7,1072.8 260.0,1072.2 261.4,1071.6 262.7,1071.1 264.1,1070.5 265.4,1069.9 266.7,1069.3 268.1,1068.7 269.4,1068.1 270.7,1067.5 272.1,1066.9 273.4,1066.3 274.7,1065.7 276.1,1065.1 277.4,1064.5 278.8,1063.8 280.1,1063.2 281.4,1062.6 282.8,1062.0 284.1,1061.4 285.4,1060.8 286.8,1060.2 288.1,1059.5 289.5,1058.9 290.8,1058.3 292.1,1057.7 293.5,1057.0 294.8,1056.4 296.1,1055.8 297.5,1055.1 298.8,1054.5 300.1,1053.9 301.5,1053.2 302.8,1052.6 304.2,1051.9 305.5,1051.3 306.8,1050.6 308.2,1050.0 309.5,1049.3 310.8,1048.7 312.2,1048.0 313.5,1047.4 314.9,1046.7 316.2,1046.1 317.5,1045.4 318.9,1044.7 320.2,1044.1 321.5,1043.4 322.9,1042.7 324.2,1042.1 325.6,1041.4 326.9,1040.7 328.2,1040.0 329.6,1039.4 330.9,1038.7 332.2,1038.0 333.6,1037.3 334.9,1036.6 336.3,1035.9 337.6,1035.3 338.9,1034.6 340.3,1033.9 341.6,1033.2 342.9,1032.5 344.3,1031.8 345.6,1031.1 347.0,1030.4 348.3,1029.7 349.6,1029.0 351.0,1028.3 352.3,1027.5 353.6,1026.8 355.0,1026.1 356.3,1025.4 357.7,1024.7 359.0,1024.0 360.3,1023.2 361.7,1022.5 363.0,1021.8 364.3,1021.1 365.7,1020.3 367.0,1019.6 368.4,1018.9 369.7,1018.1 371.0,1017.4 372.4,1016.6 373.7,1015.9 375.1,1015.2 376.4,1014.4 377.7,1013.7 379.1,1012.9 380.4,1012.1 381.7,1011.4 383.1,1010.6 384.4,1009.9 385.8,1009.1 387.1,1008.4 388.4,1007.6 389.8,1006.8 391.1,1006.0 392.4,1005.3 393.8,1004.5 395.1,1003.7 396.5,1002.9 397.8,1002.2 399.1,1001.4 400.5,1000.6 401.8,999.8 403.1,999.0 404.5,998.2 405.8,997.4 407.2,996.6 408.5,995.8 409.8,995.0 411.2,994.2 412.5,993.4 413.9,992.6 415.2,991.8 416.5,991.0 417.9,990.2 419.2,989.4 420.5,988.6 421.9,987.7 423.2,986.9 424.6,986.1 425.9,985.3 427.2,984.4 428.6,983.6 429.9,982.8 431.3,981.9 432.6,981.1 433.9,980.3 435.3,979.4 436.6,978.6 437.9,977.7 439.3,976.9 440.6,976.0 442.0,975.2 443.3,974.3 444.6,973.5 446.0,972.6 447.3,971.7 448.7,970.9 450.0,970.0 451.3,969.1 452.7,968.2 454.0,967.4 455.3,966.5 456.7,965.6 458.0,964.7 459.4,963.8 460.7,963.0 462.0,962.1 463.4,961.2 464.7,960.3 466.1,959.4 467.4,958.5 468.7,957.6 470.1,956.7 471.4,955.8 472.7,954.9 474.1,953.9 475.4,953.0 476.8,952.1 478.1,951.2 479.4,950.3 480.8,949.3 482.1,948.4 483.5,947.5 484.8,946.6 486.1,945.6 487.5,944.7 488.8,943.7 490.1,942.8 491.5,941.9 492.8,940.9 494.2,940.0 495.5,939.0 496.8,938.1 498.2,937.1 499.5,936.1 500.9,935.2 502.2,934.2 503.5,933.2 504.9,932.3 506.2,931.3 507.6,930.3 508.9,929.3 510.2,928.4 511.6,927.4 512.9,926.4 514.2,925.4 515.6,924.4 516.9,923.4 518.3,922.4 519.6,921.4 520.9,920.4 522.3,919.4 523.6,918.4 525.0,917.4 526.3,916.4 527.6,915.4 529.0,914.3 530.3,913.3 531.7,912.3 533.0,911.3 534.3,910.2 535.7,909.2 537.0,908.2 538.3,907.1 539.7,906.1 541.0,905.0 542.4,904.0 543.7,902.9 545.0,901.9 546.4,900.8 547.7,899.8 549.1,898.7 550.4,897.6 551.7,896.6 553.1,895.5 554.4,894.4 555.8,893.4 557.1,892.3 558.4,891.2 559.8,890.1 561.1,889.0 562.5,887.9 563.8,886.8 565.1,885.7 566.5,884.6 567.8,883.5 569.1,882.4 570.5,881.3 571.8,880.2 573.2,879.1 574.5,878.0 575.8,876.9 577.2,875.7 578.5,874.6 579.9,873.5 581.2,872.3 582.5,871.2 583.9,870.1 585.2,868.9 586.6,867.8 587.9,866.6 589.2,865.5 590.6,864.3 591.9,863.2 593.3,862.0 594.6,860.8 595.9,859.7 597.3,858.5 598.6,857.3 600.0,856.2 601.3,855.0 602.6,853.8 604.0,852.6 605.3,851.4 606.6,850.2 608.0,849.0 609.3,847.8 610.7,846.6 612.0,845.4 613.3,844.2 614.7,843.0 616.0,841.8 617.4,840.6 618.7,839.4 620.0,838.1 621.4,836.9 622.7,835.7 624.1,834.4 625.4,833.2 626.7,832.0 628.1,830.7 629.4,829.5 630.8,828.2 632.1,827.0 633.4,825.7 634.8,824.4 636.1,823.2 637.5,821.9 638.8,820.6 640.1,819.4 641.5,818.1 642.8,816.8 644.2,815.5 645.5,814.2 646.8,812.9 648.2,811.6 649.5,810.3 650.8,809.0 652.2,807.7 653.5,806.4 654.9,805.1 656.2,803.8 657.5,802.5 658.9,801.1 660.2,799.8 661.6,798.5 662.9,797.1 664.2,795.8 665.6,794.5 666.9,793.1 668.3,791.8 669.6,790.4 670.9,789.1 672.3,787.7 673.6,786.3 675.0,785.0 676.3,783.6 677.6,782.2 679.0,780.8 680.3,779.5 681.7,778.1 683.0,776.7 684.3,775.3 685.7,773.9 687.0,772.5 688.4,771.1 689.7,769.7 691.0,768.3 692.4,766.9 693.7,765.4 695.1,764.0 696.4,762.6 697.7,761.1 699.1,759.7 700.4,758.3 701.7,756.8 703.1,755.4 704.4,753.9 705.8,752.5 707.1,751.0 708.4,749.6 709.8,748.1 711.1,746.6 712.5,745.2 713.8,743.7 715.1,742.2 716.5,740.7 717.8,739.2 719.2,737.7 720.5,736.2 721.8,734.7 723.2,733.2 724.5,731.7 725.9,730.2 727.2,728.7 728.5,727.2 729.9,725.6 731.2,724.1 732.6,722.6 733.9,721.0 735.2,719.5 736.6,717.9 737.9,716.4 739.3,714.8 740.6,713.3 741.9,711.7 743.3,710.1 744.6,708.6 746.0,707.0 747.3,705.4 748.6,703.8 750.0,702.2 751.3,700.6 752.7,699.0 754.0,697.4 755.3,695.8 756.7,694.2 758.0,692.6 759.4,691.0 760.7,689.4 762.0,687.7 763.4,686.1 764.7,684.5 766.0,682.8 767.4,681.2 768.7,679.5 770.1,677.9 771.4,676.2 772.7,674.6 774.1,672.9 775.4,671.2 776.8,669.6 778.1,667.9 779.4,666.2 780.8,664.5 782.1,662.8 783.5,661.1 784.8,659.4 786.1,657.7 787.5,656.0 788.8,654.3 790.2,652.5 791.5,650.8 792.8,649.1 794.2,647.4 795.5,645.6 796.9,643.9 798.2,642.1 799.5,640.4 800.9,638.6 802.2,636.8 803.6,635.1 804.9,633.3 806.2,631.5 807.6,629.7 808.9,628.0 810.3,626.2 811.6,624.4 812.9,622.6 814.3,620.8 815.6,619.0 817.0,617.1 818.3,615.3 819.6,613.5 821.0,611.7 822.3,609.8 823.7,608.0 825.0,606.1 826.3,604.3 827.7,602.4 829.0,600.6 830.4,598.7 831.7,596.8 833.0,595.0 834.4,593.1 835.7,591.2 837.0,589.3 838.4,587.4 839.7,585.5 841.1,583.6 842.4,581.7 843.7,579.8 845.1,577.9 846.4,575.9 847.8,574.0 849.1,572.1 850.4,570.1 851.8,568.2 853.1,566.2 854.4,564.3 855.8,562.3 857.1,560.3 858.5,558.4 859.8,556.4 861.1,554.4 862.5,552.4 863.8,550.4 865.1,548.4 866.5,546.4 867.8,544.4 869.1,542.4 870.5,540.3 871.8,538.3 873.1,536.3 874.5,534.2 875.8,532.2 877.1,530.1 878.5,528.1 879.8,526.0 881.1,523.9 882.5,521.9 883.8,519.8 885.2,517.7 886.5,515.6 887.8,513.5 889.2,511.4 890.5,509.3 891.8,507.2 893.2,505.1 894.5,503.0 895.8,500.8 897.2,498.7 898.5,496.6 899.8,494.4 901.2,492.3 902.5,490.1 903.8,487.9 905.2,485.8 906.5,483.6 907.8,481.4 909.2,479.2 910.5,477.0 911.8,474.9 913.2,472.6 914.5,470.4 915.8,468.2 917.2,466.0 918.5,463.8 919.8,461.5 921.2,459.3 922.5,457.1 923.9,454.8 925.2,452.5 926.5,450.3 927.9,448.0 929.2,445.7 930.5,443.5 931.9,441.2 933.2,438.9 934.5,436.6 935.9,434.3 937.2,432.0 938.5,429.6 939.9,427.3 941.2,425.0 942.5,422.7 943.9,420.3 945.2,418.0 946.5,415.6 947.9,413.2 949.2,410.9 950.5,408.5 951.9,406.1 953.2,403.7 954.5,401.3 955.9,398.9 957.2,396.5 958.5,394.1 959.9,391.7 961.2,389.3 962.5,386.8 963.9,384.4 965.2,382.0 966.5,379.5 967.9,377.1 969.2,374.6 970.5,372.1 971.9,369.6 973.2,367.2 974.5,364.7 975.9,362.2 977.2,359.7 978.5,357.2 979.9,354.6 981.2,352.1 982.5,349.6 983.9,347.0 985.2,344.5 986.5,341.9 987.9,339.4 989.2,336.8 990.5,334.2 991.9,331.7 993.2,329.1 994.5,326.5 995.9,323.9 997.2,321.3 998.5,318.7 999.9,316.1 1001.2,313.4 1002.5,310.8 1003.9,308.1 1005.2,305.5 1006.5,302.8 1007.9,300.2 1009.2,297.5 1010.5,294.8 1011.9,292.2 1013.2,289.5 1014.5,286.8 1015.9,284.1 1017.2,281.3 1018.5,278.6 1019.9,275.9 1021.2,273.2 1022.5,270.4 1023.9,267.7 1025.2,264.9 1026.5,262.2 1027.9,259.4 1029.2,256.6 1030.5,253.8 1031.9,251.0 1033.2,248.2 1034.5,245.4 1035.9,242.6 1037.2,239.8 1038.5,236.9 1039.9,234.1 1041.2,231.3 1042.5,228.4 1043.9,225.5 1045.2,222.7 1046.5,219.8 1047.9,216.9 1049.2,214.0 1050.5,211.1 1051.9,208.2 1053.2,205.3 1054.5,202.4 1055.9,199.4 1057.2,196.5 1058.5,193.6 1059.9,190.6 1061.2,187.6 1062.5,184.7 1063.8,181.7 1065.2,178.7 1066.5,175.7 1067.8,172.7 1069.2,169.7 1070.5,166.7 1071.8,163.7 1073.2,160.6 1074.5,157.6 1075.8,154.5 1077.2,151.5 1078.5,148.4 1079.8,145.3 1081.2,142.2 1082.5,139.2 1083.8,136.1 1085.2,132.9 1086.5,129.8 1087.8,126.7 1089.2,123.6 1090.5,120.4 1091.8,117.3 1093.2,114.1 1094.5,111.0 1095.8,107.8 1097.2,104.6 1098.5,101.4 1099.8,98.2 1101.2,95.0 1102.5,91.8 1103.8,88.6 1105.1,85.3 1106.5,82.1 1107.8,78.8 1109.1,75.6 1110.5,72.3 1111.8,69.0 1113.1,65.7 1114.5,62.4 1115.8,59.1 1117.1,55.8 1118.5,52.4 1119.8,49.1 1121.1,45.7 1122.5,42.4 1123.8,39.0 1125.1,35.6 1125.1,57.0 1748.0,57.0 1748.0,26.5 1745.8,30.8 1743.6,35.2 1741.3,39.5 1739.1,43.8 1736.9,48.1 1734.6,52.4 1732.4,56.6 1730.2,60.9 1727.9,65.1 1725.7,69.3 1723.5,73.5 1721.2,77.7 1719.0,81.9 1716.8,86.1 1714.5,90.2 1712.3,94.4 1710.0,98.5 1707.8,102.6 1705.6,106.7 1703.3,110.8 1701.1,114.9 1698.9,119.0 1696.6,123.0 1694.4,127.1 1692.2,131.1 1689.9,135.1 1687.7,139.1 1685.5,143.0 1683.2,147.0 1681.0,151.0 1678.8,154.9 1676.5,158.8 1674.3,162.7 1672.1,166.6 1669.8,170.5 1667.6,174.4 1665.4,178.2 1663.1,182.1 1660.9,185.9 1658.7,189.7 1656.4,193.5 1654.2,197.3 1652.0,201.1 1649.7,204.8 1647.5,208.6 1645.3,212.3 1643.0,216.0 1640.8,219.7 1638.6,223.4 1636.3,227.1 1634.1,230.8 1631.9,234.5 1629.6,238.1 1627.4,241.7 1625.2,245.3 1622.9,249.0 1620.7,252.5 1618.5,256.1 1616.2,259.7 1614.0,263.3 1611.7,266.8 1609.5,270.3 1607.3,273.8 1605.0,277.3 1602.8,280.8 1600.6,284.3 1598.4,287.8 1596.1,291.3 1593.9,294.7 1591.7,298.2 1589.5,301.6 1587.3,305.0 1585.1,308.5 1582.9,311.9 1580.7,315.3 1578.5,318.6 1576.3,322.0 1574.1,325.4 1571.9,328.7 1569.7,332.0 1567.4,335.4 1565.2,338.7 1563.0,342.0 1560.8,345.2 1558.6,348.5 1556.4,351.8 1554.2,355.0 1552.0,358.3 1549.8,361.5 1547.6,364.7 1545.4,367.9 1543.1,371.1 1540.9,374.3 1538.7,377.5 1536.5,380.6 1534.3,383.8 1532.1,386.9 1529.9,390.1 1527.7,393.2 1525.5,396.3 1523.2,399.4 1521.0,402.5 1518.8,405.6 1516.6,408.6 1514.4,411.7 1512.2,414.7 1510.0,417.7 1507.8,420.8 1505.6,423.8 1503.3,426.8 1501.1,429.8 1498.9,432.8 1496.7,435.7 1494.5,438.7 1492.3,441.6 1490.1,444.6 1487.9,447.5 1485.6,450.4 1483.4,453.3 1481.2,456.2 1479.0,459.1 1476.8,462.0 1474.6,464.9 1472.4,467.7 1470.2,470.6 1467.9,473.4 1465.7,476.2 1463.5,479.1 1461.3,481.9 1459.1,484.7 1456.9,487.5 1454.7,490.2 1452.4,493.0 1450.2,495.8 1448.0,498.5 1445.8,501.3 1443.6,504.0 1441.4,506.7 1439.1,509.4 1436.9,512.1 1434.7,514.8 1432.5,517.5 1430.3,520.2 1428.1,522.9 1425.9,525.5 1423.6,528.2 1421.4,530.8 1419.2,533.4 1417.0,536.0 1414.8,538.7 1412.6,541.3 1410.3,543.9 1408.1,546.4 1405.9,549.0 1403.7,551.6 1401.5,554.1 1399.3,556.7 1397.0,559.2 1394.8,561.7 1392.6,564.3 1390.4,566.8 1388.1,569.3 1385.9,571.7 1383.7,574.2 1381.4,576.7 1379.2,579.1 1377.0,581.6 1374.7,584.0 1372.5,586.4 1370.3,588.9 1368.0,591.3 1365.8,593.7 1363.6,596.1 1361.3,598.4 1359.1,600.8 1356.8,603.2 1354.6,605.6 1352.4,607.9 1350.1,610.3 1347.9,612.6 1345.7,614.9 1343.4,617.2 1341.2,619.6 1339.0,621.9 1336.7,624.2 1334.5,626.4 1332.3,628.7 1330.0,631.0 1327.8,633.3 1325.6,635.5 1323.3,637.8 1321.1,640.0 1318.9,642.2 1316.6,644.5 1314.4,646.7 1312.2,648.9 1309.9,651.1 1307.7,653.3 1305.5,655.5 1303.2,657.6 1301.0,659.8 1298.8,662.0 1296.5,664.1 1294.3,666.3 1292.1,668.4 1289.8,670.6 1287.6,672.7 1285.4,674.8 1283.1,676.9 1280.9,679.0 1278.7,681.1 1276.4,683.2 1274.2,685.3 1272.0,687.4 1269.7,689.4 1267.5,691.5 1265.2,693.5 1263.0,695.6 1260.8,697.6 1258.5,699.7 1256.3,701.7 1254.1,703.7 1251.8,705.7 1249.6,707.7 1247.4,709.7 1245.1,711.7 1242.9,713.7 1240.7,715.6 1238.4,717.6 1236.2,719.6 1234.0,721.5 1231.7,723.5 1229.5,725.4 1227.3,727.4 1225.0,729.3 1222.8,731.2 1220.6,733.1 1218.3,735.0 1216.1,736.9 1213.9,738.8 1211.6,740.7 1209.4,742.6 1207.2,744.5 1204.9,746.3 1202.7,748.2 1200.5,750.0 1198.2,751.9 1196.0,753.7 1193.8,755.6 1191.5,757.4 1189.3,759.2 1187.1,761.0 1184.8,762.8 1182.6,764.6 1180.4,766.4 1178.1,768.2 1175.9,770.0 1173.7,771.8 1171.4,773.6 1169.2,775.3 1167.0,777.1 1164.7,778.8 1162.5,780.6 1160.3,782.3 1158.0,784.1 1155.8,785.8 1153.6,787.5 1151.3,789.2 1149.1,790.9 1146.9,792.6 1144.6,794.3 1142.4,796.0 1140.2,797.7 1137.9,799.4 1135.7,801.1 1133.5,802.7 1131.2,804.4 1129.0,806.1 1126.8,807.7 1124.5,809.4 1122.3,811.0 1120.1,812.6 1117.8,814.3 1115.6,815.9 1113.3,817.5 1111.1,819.1 1108.9,820.7 1106.6,822.3 1104.4,823.9 1102.2,825.5 1099.9,827.1 1097.7,828.7 1095.5,830.3 1093.2,831.8 1091.0,833.4 1088.8,834.9 1086.5,836.5 1084.3,838.0 1082.1,839.6 1079.8,841.1 1077.6,842.6 1075.4,844.2 1073.1,845.7 1070.9,847.2 1068.7,848.7 1066.4,850.2 1064.2,851.7 1062.0,853.2 1059.7,854.7 1057.5,856.2 1055.3,857.6 1053.0,859.1 1050.8,860.6 1048.6,862.0 1046.3,863.5 1044.1,864.9 1041.9,866.4 1039.6,867.8 1037.4,869.3 1035.2,870.7 1032.9,872.1 1030.7,873.6 1028.5,875.0 1026.2,876.4 1024.0,877.8 1021.8,879.2 1019.5,880.6 1017.3,882.0 1015.1,883.4 1012.8,884.7 1010.6,886.1 1008.4,887.5 1006.1,888.9 1003.9,890.2 1001.7,891.6 999.4,892.9 997.2,894.3 995.0,895.6 992.7,897.0 990.5,898.3 988.3,899.6 986.0,901.0 983.8,902.3 981.6,903.6 979.3,904.9 977.1,906.2 974.9,907.5 972.6,908.8 970.4,910.1 968.2,911.4 965.9,912.7 963.7,914.0 961.5,915.2 959.2,916.5 957.0,917.8 954.8,919.0 952.5,920.3 950.3,921.5 948.0,922.8 945.8,924.0 943.6,925.3 941.3,926.5 939.1,927.7 936.9,929.0 934.6,930.2 932.4,931.4 930.2,932.6 927.9,933.8 925.7,935.0 923.5,936.3 921.2,937.4 919.0,938.6 916.8,939.8 914.5,941.0 912.3,942.2 910.1,943.4 907.8,944.5 905.6,945.7 903.4,946.9 901.1,948.0 898.9,949.2 896.7,950.4 894.4,951.5 892.2,952.6 890.0,953.8 887.7,954.9 885.5,956.1 883.3,957.2 881.0,958.3 878.8,959.4 876.6,960.6 874.3,961.7 872.1,962.8 869.9,963.9 867.6,965.0 865.4,966.1 863.2,967.2 860.9,968.3 858.7,969.4 856.5,970.4 854.2,971.5 852.0,972.6 849.8,973.7 847.5,974.7 845.3,975.8 843.0,976.9 840.8,977.9 838.6,979.0 836.3,980.0 834.1,981.1 831.9,982.1 829.6,983.1 827.4,984.2 825.2,985.2 822.9,986.2 820.7,987.3 818.5,988.3 816.2,989.3 814.0,990.3 811.8,991.3 809.5,992.3 807.3,993.3 805.1,994.3 802.8,995.3 800.6,996.3 798.4,997.3 796.1,998.3 793.9,999.3 791.7,1000.3 789.4,1001.2 787.2,1002.2 785.0,1003.2 782.7,1004.1 780.5,1005.1 778.3,1006.1 776.0,1007.0 773.8,1008.0 771.5,1008.9 769.3,1009.9 767.1,1010.8 764.8,1011.7 762.6,1012.7 760.4,1013.6 758.1,1014.5 755.9,1015.5 753.7,1016.4 751.4,1017.3 749.2,1018.2 747.0,1019.1 744.7,1020.1 742.5,1021.0 740.3,1021.9 738.0,1022.8 735.8,1023.7 733.6,1024.6 731.3,1025.5 729.1,1026.3 726.9,1027.2 724.6,1028.1 722.4,1029.0 720.2,1029.9 717.9,1030.7 715.7,1031.6 713.4,1032.5 711.2,1033.3 709.0,1034.2 706.7,1035.1 704.5,1035.9 702.3,1036.8 700.0,1037.6 697.8,1038.5 695.6,1039.3 693.3,1040.2 691.1,1041.0 688.9,1041.8 686.6,1042.7 684.4,1043.5 682.2,1044.3 679.9,1045.1 677.7,1046.0 675.5,1046.8 673.2,1047.6 671.0,1048.4 668.8,1049.2 666.5,1050.0 664.3,1050.8 662.0,1051.6 659.8,1052.4 657.6,1053.2 655.3,1054.0 653.1,1054.8 650.9,1055.6 648.6,1056.4 646.4,1057.2 644.2,1057.9 641.9,1058.7 639.7,1059.5 637.5,1060.3 635.2,1061.0 633.0,1061.8 630.8,1062.6 628.5,1063.3 626.3,1064.1 624.1,1064.8 621.8,1065.6 619.6,1066.3 617.3,1067.1 615.1,1067.8 612.9,1068.6 610.6,1069.3 608.4,1070.1 606.2,1070.8 603.9,1071.5 601.7,1072.3 599.5,1073.0 597.2,1073.7 595.0,1074.4 592.8,1075.2 590.5,1075.9 588.3,1076.6 586.1,1077.3 583.8,1078.0 581.6,1078.7 579.3,1079.4 577.1,1080.1 574.9,1080.8 572.6,1081.5 570.4,1082.2 568.2,1082.9 565.9,1083.6 563.7,1084.3 561.5,1085.0 559.2,1085.7 557.0,1086.4 554.8,1087.0 552.5,1087.7 550.3,1088.4 548.1,1089.1 545.8,1089.7 543.6,1090.4 541.3,1091.1 539.1,1091.7 536.9,1092.4 534.6,1093.1 532.4,1093.7 530.2,1094.4 527.9,1095.0 525.7,1095.7 523.5,1096.3 521.2,1097.0 519.0,1097.6 516.8,1098.3 514.5,1098.9 512.3,1099.5 510.1,1100.2 507.8,1100.8 505.6,1101.4 503.3,1102.1 501.1,1102.7 498.9,1103.3 496.6,1103.9 494.4,1104.6 492.2,1105.2 489.9,1105.8 487.7,1106.4 485.5,1107.0 483.2,1107.6 481.0,1108.2 478.8,1108.9 476.5,1109.5 474.3,1110.1 472.0,1110.7 469.8,1111.3 467.6,1111.9 465.3,1112.4 463.1,1113.0 460.9,1113.6 458.6,1114.2 456.4,1114.8 454.2,1115.4 451.9,1116.0 449.7,1116.5 447.5,1117.1 445.2,1117.7 443.0,1118.3 440.7,1118.9 438.5,1119.4 436.3,1120.0 434.0,1120.6 431.8,1121.1 429.6,1121.7 427.3,1122.2 425.1,1122.8 422.9,1123.4 420.6,1123.9 418.4,1124.5 416.1,1125.0 413.9,1125.6 411.7,1126.1 409.4,1126.7 407.2,1127.2 405.0,1127.8 402.7,1128.3 400.5,1128.8 398.3,1129.4 396.0,1129.9 393.8,1130.4 391.6,1131.0 389.3,1131.5 387.1,1132.0 384.8,1132.6 382.6,1133.1 380.4,1133.6 378.1,1134.1 375.9,1134.7 373.7,1135.2 371.4,1135.7 369.2,1136.2 367.0,1136.7 364.7,1137.2 362.5,1137.7 360.2,1138.2 358.0,1138.8 355.8,1139.3 353.5,1139.8 351.3,1140.3 349.1,1140.8 346.8,1141.3 344.6,1141.8 342.4,1142.3 340.1,1142.7 337.9,1143.2 335.6,1143.7 333.4,1144.2 331.2,1144.7 328.9,1145.2 326.7,1145.7 324.5,1146.2 322.2,1146.6 320.0,1147.1 317.8,1147.6 315.5,1148.1 313.3,1148.5 311.0,1149.0 308.8,1149.5 306.6,1150.0 304.3,1150.4 302.1,1150.9 299.9,1151.4 297.6,1151.8 295.4,1152.3 293.2,1152.7 290.9,1153.2 288.7,1153.7 286.4,1154.1 284.2,1154.6 282.0,1155.0 279.7,1155.5 277.5,1155.9 275.3,1156.4 273.0,1156.8 270.8,1157.3 268.6,1157.7 266.3,1158.2 264.1,1158.6 261.8,1159.0 259.6,1159.5 257.4,1159.9 255.1,1160.3 252.9,1160.8 250.7,1161.2 248.4,1161.6 246.2,1162.1 244.0,1162.5 241.7,1162.9 239.5,1163.4 237.2,1163.8 235.0,1164.2 232.8,1164.6 230.5,1165.1 228.3,1165.5 226.1,1165.9 223.8,1166.3 221.6,1166.7 219.4,1167.1 217.1,1167.6 214.9,1168.0 212.6,1168.4 210.4,1168.8 208.2,1169.2 206.0,1169.6 203.7,1170.0 201.5,1170.4 199.2,1170.7 197.0,1171.1 194.8,1171.5 192.5,1171.9 190.3,1172.3 188.1,1172.7 185.8,1173.0 162.0,1173.0"/>
<polygon fill="#8ECEC8" points="162.0,1184.2 187.7,1184.2 190.0,1183.8 192.2,1183.4 194.4,1183.0 196.7,1182.6 198.9,1182.3 201.2,1181.9 203.4,1181.5 205.7,1181.1 207.9,1180.7 210.2,1180.4 212.4,1180.0 214.7,1179.7 217.0,1179.3 219.2,1179.0 221.5,1178.6 223.7,1178.2 226.0,1177.9 228.2,1177.5 230.5,1177.1 232.7,1176.8 235.0,1176.4 237.2,1176.0 239.5,1175.6 241.7,1175.3 244.0,1174.9 246.3,1174.5 248.5,1174.1 250.8,1173.8 253.0,1173.4 255.3,1173.0 257.5,1172.6 259.8,1172.2 262.0,1171.8 264.3,1171.4 266.5,1171.1 268.8,1170.6 271.0,1170.2 273.3,1169.7 275.5,1169.3 277.8,1168.8 280.0,1168.4 282.2,1167.9 284.5,1167.5 286.7,1167.0 289.0,1166.6 291.2,1166.1 293.5,1165.6 295.7,1165.2 298.0,1164.7 300.2,1164.3 302.4,1163.8 304.7,1163.3 306.9,1162.9 309.2,1162.4 311.4,1161.9 313.7,1161.4 315.9,1161.0 318.2,1160.5 320.4,1160.0 322.6,1159.5 324.9,1159.1 327.1,1158.6 329.4,1158.1 331.6,1157.6 333.9,1157.1 336.1,1156.6 338.4,1156.1 340.6,1155.6 342.9,1155.1 345.1,1154.7 347.3,1154.2 349.6,1153.7 351.8,1153.2 354.1,1152.7 356.3,1152.2 358.6,1151.6 360.8,1151.1 363.1,1150.6 365.3,1150.1 367.5,1149.6 369.8,1149.1 372.0,1148.6 374.3,1148.1 376.5,1147.5 378.8,1147.0 381.0,1146.5 383.3,1146.0 385.5,1145.5 387.8,1144.9 390.0,1144.4 392.2,1143.9 394.5,1143.3 396.7,1142.8 399.0,1142.3 401.2,1141.7 403.5,1141.2 405.7,1140.6 408.0,1140.1 410.2,1139.6 412.5,1139.0 414.7,1138.5 416.9,1137.9 419.2,1137.4 421.4,1136.8 423.7,1136.2 425.9,1135.7 428.2,1135.1 430.4,1134.6 432.7,1134.0 434.9,1133.4 437.2,1132.9 439.4,1132.3 441.6,1131.7 443.9,1131.2 446.1,1130.6 448.4,1130.0 450.6,1129.4 452.9,1128.8 455.1,1128.3 457.4,1127.7 459.6,1127.1 461.9,1126.5 464.1,1125.9 466.3,1125.3 468.6,1124.7 470.8,1124.1 473.1,1123.5 475.3,1122.9 477.6,1122.3 479.8,1121.7 482.1,1121.1 484.3,1120.5 486.6,1119.9 488.8,1119.3 491.1,1118.7 493.3,1118.0 495.5,1117.4 497.8,1116.8 500.0,1116.2 502.3,1115.6 504.5,1114.9 506.8,1114.3 509.0,1113.7 511.3,1113.0 513.5,1112.4 515.8,1111.8 518.0,1111.1 520.3,1110.5 522.5,1109.8 524.8,1109.2 527.0,1108.5 529.2,1107.9 531.5,1107.2 533.7,1106.6 536.0,1105.9 538.2,1105.2 540.5,1104.6 542.7,1103.9 545.0,1103.2 547.2,1102.6 549.5,1101.9 551.7,1101.2 554.0,1100.6 556.2,1099.9 558.5,1099.2 560.7,1098.5 562.9,1097.8 565.2,1097.1 567.4,1096.4 569.7,1095.8 571.9,1095.1 574.2,1094.4 576.4,1093.7 578.7,1093.0 580.9,1092.3 583.2,1091.5 585.4,1090.8 587.7,1090.1 589.9,1089.4 592.2,1088.7 594.4,1088.0 596.7,1087.2 598.9,1086.5 601.1,1085.8 603.4,1085.1 605.6,1084.3 607.9,1083.6 610.1,1082.9 612.4,1082.1 614.6,1081.4 616.9,1080.6 619.1,1079.9 621.4,1079.1 623.6,1078.4 625.9,1077.6 628.1,1076.9 630.4,1076.1 632.6,1075.4 634.9,1074.6 637.1,1073.8 639.4,1073.0 641.6,1072.3 643.9,1071.5 646.1,1070.7 648.3,1069.9 650.6,1069.2 652.8,1068.4 655.1,1067.6 657.3,1066.8 659.6,1066.0 661.8,1065.2 664.1,1064.4 666.3,1063.6 668.6,1062.8 670.8,1062.0 673.1,1061.2 675.3,1060.3 677.6,1059.5 679.8,1058.7 682.1,1057.9 684.3,1057.1 686.6,1056.2 688.8,1055.4 691.1,1054.6 693.3,1053.7 695.6,1052.9 697.8,1052.0 700.1,1051.2 702.3,1050.3 704.5,1049.5 706.8,1048.6 709.0,1047.8 711.3,1046.9 713.5,1046.1 715.8,1045.2 718.0,1044.3 720.3,1043.4 722.5,1042.6 724.8,1041.7 727.0,1040.8 729.3,1039.9 731.5,1039.0 733.8,1038.1 736.0,1037.3 738.3,1036.4 740.5,1035.5 742.8,1034.5 745.0,1033.6 747.3,1032.7 749.5,1031.8 751.8,1030.9 754.0,1030.0 756.3,1029.1 758.5,1028.1 760.8,1027.2 763.0,1026.3 765.3,1025.3 767.5,1024.4 769.8,1023.5 772.0,1022.5 774.3,1021.6 776.5,1020.6 778.8,1019.7 781.0,1018.7 783.3,1017.7 785.5,1016.8 787.8,1015.8 790.0,1014.8 792.3,1013.9 794.5,1012.9 796.7,1011.9 799.0,1010.9 801.2,1009.9 803.5,1008.9 805.7,1007.9 808.0,1006.9 810.2,1005.9 812.5,1004.9 814.7,1003.9 817.0,1002.9 819.2,1001.9 821.5,1000.9 823.7,999.8 826.0,998.8 828.2,997.8 830.5,996.7 832.7,995.7 835.0,994.7 837.2,993.6 839.5,992.6 841.7,991.5 844.0,990.5 846.2,989.4 848.5,988.3 850.7,987.3 853.0,986.2 855.2,985.1 857.5,984.0 859.7,983.0 862.0,981.9 864.2,980.8 866.5,979.7 868.7,978.6 871.0,977.5 873.2,976.4 875.5,975.3 877.7,974.2 880.0,973.0 882.2,971.9 884.5,970.8 886.7,969.7 889.0,968.5 891.2,967.4 893.5,966.2 895.7,965.1 898.0,964.0 900.2,962.8 902.5,961.6 904.7,960.5 907.0,959.3 909.2,958.1 911.5,957.0 913.7,955.8 916.0,954.6 918.2,953.4 920.5,952.2 922.7,951.0 925.0,949.8 927.2,948.6 929.5,947.4 931.7,946.2 934.0,945.0 936.2,943.8 938.5,942.6 940.7,941.3 943.0,940.1 945.2,938.9 947.5,937.6 949.7,936.4 952.0,935.1 954.2,933.9 956.5,932.6 958.7,931.4 961.0,930.1 963.2,928.8 965.5,927.5 967.7,926.3 970.0,925.0 972.2,923.7 974.5,922.4 976.7,921.1 979.0,919.8 981.2,918.5 983.5,917.2 985.7,915.9 988.0,914.5 990.2,913.2 992.5,911.9 994.7,910.6 997.0,909.2 999.2,907.9 1001.5,906.5 1003.7,905.2 1006.0,903.8 1008.3,902.4 1010.5,901.1 1012.8,899.7 1015.0,898.3 1017.3,896.9 1019.5,895.5 1021.8,894.2 1024.0,892.8 1026.3,891.4 1028.5,890.0 1030.8,888.5 1033.0,887.1 1035.3,885.7 1037.5,884.3 1039.8,882.8 1042.0,881.4 1044.3,880.0 1046.5,878.5 1048.8,877.1 1051.0,875.6 1053.3,874.1 1055.5,872.7 1057.8,871.2 1060.0,869.7 1062.3,868.2 1064.5,866.8 1066.8,865.3 1069.0,863.8 1071.3,862.3 1073.5,860.7 1075.8,859.2 1078.0,857.7 1080.3,856.2 1082.5,854.7 1084.8,853.1 1087.0,851.6 1089.3,850.0 1091.5,848.5 1093.8,846.9 1096.0,845.4 1098.3,843.8 1100.5,842.2 1102.8,840.6 1105.0,839.1 1107.3,837.5 1109.5,835.9 1111.8,834.3 1114.0,832.7 1116.3,831.0 1118.5,829.4 1120.8,827.8 1123.0,826.2 1125.3,824.5 1127.5,822.9 1129.8,821.3 1132.0,819.6 1134.3,817.9 1136.5,816.3 1138.8,814.6 1141.0,812.9 1143.3,811.2 1145.5,809.6 1147.8,807.9 1150.1,806.2 1152.3,804.5 1154.6,802.7 1156.8,801.0 1159.1,799.3 1161.3,797.6 1163.6,795.8 1165.8,794.1 1168.1,792.4 1170.3,790.6 1172.6,788.8 1174.8,787.1 1177.1,785.3 1179.3,783.5 1181.6,781.7 1183.8,779.9 1186.1,778.1 1188.3,776.3 1190.6,774.5 1192.8,772.7 1195.1,770.9 1197.3,769.1 1199.6,767.2 1201.8,765.4 1204.1,763.5 1206.3,761.7 1208.6,759.8 1210.8,757.9 1213.1,756.1 1215.3,754.2 1217.6,752.3 1219.8,750.4 1222.1,748.5 1224.3,746.6 1226.6,744.7 1228.8,742.8 1231.1,740.8 1233.3,738.9 1235.6,737.0 1237.8,735.0 1240.1,733.1 1242.3,731.1 1244.6,729.1 1246.8,727.2 1249.1,725.2 1251.3,723.2 1253.6,721.2 1255.8,719.2 1258.1,717.2 1260.3,715.2 1262.6,713.1 1264.8,711.1 1267.1,709.1 1269.3,707.0 1271.6,705.0 1273.8,702.9 1276.1,700.8 1278.3,698.8 1280.6,696.7 1282.8,694.6 1285.1,692.5 1287.3,690.4 1289.6,688.3 1291.8,686.2 1294.1,684.0 1296.3,681.9 1298.6,679.8 1300.8,677.6 1303.1,675.4 1305.3,673.3 1307.6,671.1 1309.8,668.9 1312.1,666.7 1314.3,664.6 1316.6,662.4 1318.8,660.1 1321.1,657.9 1323.3,655.7 1325.6,653.5 1327.8,651.2 1330.1,649.0 1332.3,646.7 1334.6,644.5 1336.8,642.2 1339.1,639.9 1341.3,637.6 1343.6,635.3 1345.8,633.0 1348.1,630.7 1350.3,628.4 1352.6,626.1 1354.8,623.7 1357.1,621.4 1359.3,619.0 1361.6,616.7 1363.8,614.3 1366.1,611.9 1368.3,609.5 1370.6,607.1 1372.8,604.7 1375.1,602.3 1377.3,599.9 1379.6,597.5 1381.8,595.0 1384.1,592.6 1386.3,590.1 1388.6,587.7 1390.8,585.2 1393.1,582.7 1395.3,580.2 1397.6,577.7 1399.8,575.2 1402.1,572.7 1404.3,570.2 1406.6,567.7 1408.8,565.2 1411.1,562.6 1413.4,560.1 1415.6,557.5 1417.9,554.9 1420.1,552.4 1422.4,549.8 1424.7,547.2 1426.9,544.6 1429.2,542.0 1431.4,539.3 1433.7,536.7 1435.9,534.1 1438.2,531.4 1440.5,528.8 1442.7,526.1 1445.0,523.4 1447.2,520.7 1449.5,518.0 1451.8,515.3 1454.0,512.6 1456.3,509.9 1458.5,507.1 1460.8,504.4 1463.1,501.6 1465.3,498.9 1467.6,496.1 1469.8,493.3 1472.1,490.5 1474.4,487.7 1476.6,484.9 1478.9,482.1 1481.1,479.3 1483.4,476.4 1485.7,473.6 1487.9,470.7 1490.2,467.8 1492.4,464.9 1494.7,462.0 1497.0,459.1 1499.2,456.2 1501.5,453.3 1503.7,450.4 1506.0,447.4 1508.3,444.5 1510.5,441.5 1512.8,438.5 1515.0,435.5 1517.3,432.6 1519.6,429.5 1521.8,426.5 1524.1,423.5 1526.3,420.5 1528.6,417.4 1530.9,414.4 1533.1,411.3 1535.4,408.2 1537.6,405.1 1539.9,402.0 1542.2,398.9 1544.4,395.8 1546.7,392.6 1549.0,389.5 1551.2,386.3 1553.5,383.2 1555.7,380.0 1558.0,376.8 1560.3,373.6 1562.5,370.4 1564.8,367.2 1567.0,363.9 1569.3,360.7 1571.6,357.4 1573.8,354.1 1576.1,350.9 1578.4,347.6 1580.6,344.3 1582.9,341.0 1585.1,337.6 1587.4,334.3 1589.7,330.9 1591.9,327.6 1594.2,324.2 1596.4,320.8 1598.7,317.4 1601.0,314.0 1603.2,310.6 1605.5,307.2 1607.8,303.7 1610.0,300.2 1612.3,296.8 1614.5,293.3 1616.8,289.8 1619.1,286.3 1621.3,282.8 1623.6,279.2 1625.9,275.7 1628.1,272.1 1630.4,268.6 1632.6,265.0 1634.9,261.4 1637.1,257.8 1639.4,254.1 1641.6,250.5 1643.8,246.8 1646.1,243.2 1648.3,239.5 1650.6,235.8 1652.8,232.1 1655.1,228.4 1657.3,224.6 1659.6,220.9 1661.8,217.1 1664.1,213.4 1666.3,209.6 1668.6,205.8 1670.8,202.0 1673.1,198.2 1675.3,194.3 1677.6,190.5 1679.8,186.6 1682.0,182.7 1684.3,178.8 1686.5,174.9 1688.8,171.0 1691.0,167.1 1693.3,163.2 1695.5,159.2 1697.8,155.2 1700.0,151.2 1702.3,147.2 1704.5,143.2 1706.8,139.2 1709.0,135.2 1711.3,131.1 1713.5,127.0 1715.7,122.9 1718.0,118.8 1720.2,114.7 1722.5,110.6 1724.7,106.5 1727.0,102.3 1729.2,98.1 1731.5,94.0 1733.7,89.8 1736.0,85.6 1738.2,81.4 1740.4,77.2 1742.7,72.9 1744.9,68.7 1747.2,64.4 1749.4,60.1 1751.7,55.8 1753.9,51.5 1756.2,47.2 1758.4,42.8 1760.7,38.5 1762.9,34.1 1762.9,57.0 2166.0,57.0 2166.0,1320.0 162.0,1320.0"/>
<rect x="202.0" y="87.0" width="1924.0" height="3" fill="#fff" fill-opacity="0.45"/>
<rect x="202.0" y="87.0" width="2.8" height="1014.3" fill="#fff"/>
<rect x="204.8" y="87.0" width="2.5" height="1014.3" fill="#fff" fill-opacity="0.45"/>
<rect x="202.0" y="1101.3" width="2" height="178.7" fill="#fff" fill-opacity="0.3"/>
</g>
<g clip-path="url(#dc)" fill="none" stroke="#000" stroke-width="7.5" stroke-linejoin="round">
<path d="M384.6,91.6 384.7,90.5 385.0,88.0 385.3,85.5 385.6,82.9 385.9,80.4 386.2,77.9 386.5,75.3 386.8,72.8 387.0,70.2 387.2,69.2 M380.8,124.0 381.0,122.7 381.3,120.2 381.6,117.8 381.8,115.3 382.1,112.9 382.4,110.4 382.7,107.9 383.0,105.5 383.3,103.0 383.4,101.7 M377.0,155.6 377.2,154.0 377.5,151.6 377.8,149.2 378.1,146.9 378.4,144.5 378.7,142.1 379.0,139.7 379.2,137.2 379.5,134.8 379.7,133.3 M372.9,188.7 373.2,186.8 373.5,184.5 373.7,182.2 374.0,179.8 374.3,177.5 374.6,175.2 374.9,172.9 375.2,170.5 375.5,168.2 375.7,166.4 M368.6,223.0 368.8,220.9 369.1,218.6 369.4,216.4 369.7,214.1 370.0,211.9 370.3,209.6 370.6,207.4 370.9,205.1 371.1,202.8 371.4,200.7 M364.2,256.3 364.5,253.9 364.8,251.7 365.1,249.5 365.4,247.4 365.7,245.2 365.9,243.0 366.2,240.8 366.5,238.6 366.8,236.4 367.1,234.0 M359.8,288.6 360.2,285.9 360.4,283.8 360.7,281.7 361.0,279.6 361.3,277.4 361.6,275.3 361.9,273.2 362.2,271.1 362.5,268.9 362.8,266.3 M355.4,319.8 355.5,318.9 355.8,316.9 356.1,314.8 356.4,312.8 356.7,310.8 357.0,308.7 357.3,306.6 357.6,304.6 357.8,302.5 358.1,300.5 358.4,298.4 358.5,297.6 M350.4,354.1 350.6,352.8 350.9,350.8 351.2,348.9 351.5,346.9 351.8,344.9 352.1,343.0 352.4,341.0 352.6,339.0 352.9,337.0 353.2,335.0 353.5,333.0 353.7,331.8 M345.5,387.1 345.7,385.5 346.0,383.6 346.3,381.7 346.6,379.8 346.9,377.9 347.1,376.0 347.4,374.1 347.7,372.2 348.0,370.3 348.3,368.3 348.6,366.4 348.8,364.9 M340.2,420.9 340.5,418.9 340.8,417.1 341.1,415.2 341.4,413.4 341.7,411.6 341.9,409.7 342.2,407.9 342.5,406.1 342.8,404.2 343.1,402.4 343.4,400.5 343.7,398.6 M334.6,455.1 335.0,452.8 335.3,451.0 335.6,449.3 335.9,447.5 336.2,445.8 336.4,444.0 336.7,442.2 337.0,440.4 337.3,438.7 337.6,436.9 337.9,435.1 338.3,432.9 M329.3,486.3 329.5,485.3 329.8,483.7 330.1,482.0 330.4,480.3 330.7,478.6 331.0,476.9 331.2,475.2 331.5,473.5 331.8,471.8 332.1,470.1 332.4,468.4 332.7,466.6 333.0,464.9 333.1,464.1 M323.5,519.6 323.7,518.2 324.0,516.6 324.3,515.0 324.6,513.4 324.9,511.8 325.2,510.1 325.5,508.5 325.7,506.9 326.0,505.2 326.3,503.6 326.6,502.0 326.9,500.3 327.2,498.7 327.4,497.4 M317.6,551.5 317.9,549.8 318.2,548.2 318.5,546.7 318.8,545.1 319.1,543.6 319.4,542.0 319.7,540.5 320.0,538.9 320.3,537.3 320.5,535.7 320.8,534.2 321.1,532.6 321.4,531.0 321.7,529.4 M311.5,583.6 311.9,581.5 312.2,580.0 312.4,578.5 312.7,577.1 313.0,575.6 313.3,574.1 313.6,572.6 313.9,571.1 314.2,569.6 314.5,568.1 314.8,566.6 315.0,565.1 315.3,563.5 315.7,561.5 M304.7,617.2 304.9,616.1 305.2,614.7 305.5,613.3 305.8,611.9 306.1,610.4 306.4,609.0 306.7,607.6 307.0,606.2 307.2,604.7 307.5,603.3 307.8,601.9 308.1,600.4 308.4,599.0 308.7,597.6 309.0,596.1 309.2,595.1 M297.9,649.2 298.3,647.6 298.6,646.3 298.9,644.9 299.1,643.6 299.4,642.2 299.7,640.9 300.0,639.5 300.3,638.2 300.6,636.8 300.9,635.5 301.2,634.1 301.5,632.7 301.7,631.4 302.0,630.0 302.3,628.6 302.6,627.2 M290.9,680.9 291.3,678.9 291.6,677.7 291.9,676.4 292.2,675.1 292.5,673.8 292.8,672.5 293.1,671.3 293.4,670.0 293.7,668.7 293.9,667.4 294.2,666.1 294.5,664.8 294.8,663.5 295.1,662.2 295.4,660.9 295.8,659.0 M283.5,712.4 283.8,711.1 284.1,709.9 284.4,708.7 284.7,707.5 285.0,706.3 285.3,705.1 285.6,703.9 285.8,702.6 286.1,701.4 286.4,700.2 286.7,699.0 287.0,697.7 287.3,696.5 287.6,695.3 287.9,694.0 288.2,692.8 288.4,691.5 288.7,690.5 M275.9,743.3 276.3,741.6 276.6,740.5 276.9,739.3 277.2,738.2 277.5,737.0 277.7,735.9 278.0,734.7 278.3,733.6 278.6,732.4 278.9,731.3 279.2,730.1 279.5,728.9 279.8,727.8 280.1,726.6 280.3,725.4 280.6,724.2 280.9,723.1 281.3,721.5 M267.9,773.7 268.2,772.6 268.5,771.6 268.8,770.5 269.1,769.4 269.4,768.3 269.7,767.2 269.9,766.2 270.2,765.1 270.5,764.0 270.8,762.9 271.1,761.8 271.4,760.7 271.7,759.6 272.0,758.5 272.3,757.4 272.5,756.3 272.8,755.1 273.1,754.0 273.4,752.9 273.6,752.0 M259.4,804.5 259.8,802.9 260.1,801.9 260.4,800.9 260.7,799.9 261.0,798.8 261.3,797.8 261.6,796.8 261.8,795.8 262.1,794.7 262.4,793.7 262.7,792.7 263.0,791.6 263.3,790.6 263.6,789.6 263.9,788.5 264.2,787.5 264.4,786.4 264.7,785.4 265.0,784.3 265.4,782.9 M249.9,836.4 250.3,835.2 250.6,834.2 250.9,833.3 251.1,832.3 251.4,831.4 251.7,830.4 252.0,829.5 252.3,828.5 252.6,827.5 252.9,826.6 253.2,825.6 253.5,824.7 253.7,823.7 254.0,822.7 254.3,821.7 254.6,820.8 254.9,819.8 255.2,818.8 255.5,817.8 255.8,816.9 256.1,815.9 256.4,814.8 M240.7,865.3 241.0,864.4 241.3,863.5 241.6,862.6 241.9,861.7 242.2,860.8 242.5,859.9 242.8,859.0 243.0,858.2 243.3,857.3 243.6,856.4 243.9,855.5 244.2,854.6 244.5,853.6 244.8,852.7 245.1,851.8 245.4,850.9 245.7,850.0 245.9,849.1 246.2,848.2 246.5,847.3 246.8,846.3 247.1,845.4 247.6,843.8 M230.7,894.8 231.2,893.3 231.5,892.5 231.8,891.7 232.1,890.9 232.3,890.0 232.6,889.2 232.9,888.4 233.2,887.5 233.5,886.7 233.8,885.9 234.1,885.0 234.4,884.2 234.7,883.3 235.0,882.5 235.2,881.7 235.5,880.8 235.8,880.0 236.1,879.1 236.4,878.3 236.7,877.4 237.0,876.6 237.3,875.7 237.6,874.8 238.0,873.5 M220.0,923.9 220.5,922.6 220.8,921.8 221.1,921.1 221.4,920.3 221.7,919.5 221.9,918.8 222.2,918.0 222.5,917.2 222.8,916.4 223.1,915.7 223.4,914.9 223.7,914.1 224.0,913.3 224.3,912.6 224.5,911.8 224.8,911.0 225.1,910.2 225.4,909.4 225.7,908.6 226.0,907.8 226.3,907.1 226.6,906.3 226.9,905.5 227.1,904.7 227.4,903.9 227.8,902.8 M208.4,952.9 208.9,951.7 209.2,951.0 209.5,950.3 209.8,949.6 210.1,948.9 210.4,948.2 210.7,947.5 211.0,946.8 211.2,946.1 211.5,945.4 211.8,944.7 212.1,944.0 212.4,943.3 212.7,942.5 213.0,941.8 213.3,941.1 213.6,940.4 213.8,939.6 214.1,938.9 214.4,938.2 214.7,937.5 215.0,936.7 215.3,936.0 215.6,935.3 215.9,934.5 216.2,933.8 216.4,933.1 216.8,932.1 M196.8,979.7 197.4,978.6 197.7,977.9 197.9,977.3 198.2,976.6 198.5,976.0 198.8,975.3 199.1,974.7 199.4,974.0 199.7,973.4 200.0,972.7 200.3,972.1 200.5,971.4 200.8,970.7 201.1,970.1 201.4,969.4 201.7,968.8 202.0,968.1 202.3,967.4 202.6,966.8 202.9,966.1 203.1,965.4 203.4,964.8 203.7,964.1 204.0,963.4 204.3,962.7 204.6,962.1 204.9,961.4 205.2,960.7 205.5,960.0 205.9,959.1"/>
<path d="M201.3,1088.2 202.4,1087.7 203.7,1087.2 205.1,1086.7 206.4,1086.2 207.7,1085.6 209.0,1085.1 210.4,1084.6 211.7,1084.0 213.0,1083.5 214.4,1083.0 215.7,1082.4 217.0,1081.9 218.3,1081.3 219.7,1080.8 221.0,1080.3 222.1,1079.8 M230.6,1076.3 231.6,1075.9 233.0,1075.3 234.3,1074.8 235.6,1074.2 236.9,1073.6 238.3,1073.1 239.6,1072.5 240.9,1071.9 242.3,1071.4 243.6,1070.8 244.9,1070.2 246.2,1069.7 247.6,1069.1 248.9,1068.5 250.2,1067.9 251.3,1067.5 M259.9,1063.7 260.9,1063.3 262.2,1062.7 263.5,1062.1 264.8,1061.5 266.2,1060.9 267.5,1060.3 268.8,1059.7 270.2,1059.1 271.5,1058.5 272.8,1057.9 274.1,1057.3 275.5,1056.7 276.8,1056.1 278.1,1055.5 279.5,1054.8 280.4,1054.4 M287.9,1050.9 288.8,1050.5 290.1,1049.9 291.4,1049.3 292.7,1048.6 294.1,1048.0 295.4,1047.4 296.7,1046.7 298.1,1046.1 299.4,1045.4 300.7,1044.8 302.0,1044.2 303.4,1043.5 304.7,1042.9 306.0,1042.2 307.4,1041.6 308.2,1041.2 M315.9,1037.3 316.7,1037.0 318.0,1036.3 319.3,1035.6 320.6,1035.0 322.0,1034.3 323.3,1033.6 324.6,1033.0 326.0,1032.3 327.3,1031.6 328.6,1030.9 329.9,1030.2 331.3,1029.6 332.6,1028.9 333.9,1028.2 336.0,1027.1 M342.6,1023.6 344.6,1022.6 345.9,1021.9 347.2,1021.2 348.5,1020.5 349.9,1019.8 351.2,1019.1 352.5,1018.4 353.9,1017.6 355.2,1016.9 356.5,1016.2 357.8,1015.5 359.2,1014.8 360.5,1014.0 362.4,1013.0 M370.6,1008.4 372.5,1007.4 373.8,1006.7 375.1,1005.9 376.5,1005.2 377.8,1004.4 379.1,1003.7 380.4,1002.9 381.8,1002.1 383.1,1001.4 384.4,1000.6 385.8,999.9 387.1,999.1 388.4,998.3 390.2,997.3 M397.3,993.1 399.0,992.1 400.4,991.3 401.7,990.5 403.0,989.7 404.4,988.9 405.7,988.1 407.0,987.3 408.3,986.5 409.7,985.7 411.0,984.9 412.3,984.1 413.7,983.3 415.0,982.5 416.6,981.5 M424.1,976.9 425.6,975.9 426.9,975.1 428.3,974.2 429.6,973.4 430.9,972.6 432.3,971.7 433.6,970.9 434.9,970.0 436.2,969.2 437.6,968.3 438.9,967.5 440.2,966.6 441.6,965.8 443.0,964.8 M452.1,958.8 453.5,957.9 454.8,957.0 456.2,956.2 457.5,955.3 458.8,954.4 460.2,953.5 461.5,952.6 462.8,951.7 464.1,950.8 465.5,949.9 466.8,949.0 468.1,948.1 469.5,947.2 470.8,946.3 M478.9,940.7 480.1,939.8 481.4,938.9 482.7,938.0 484.1,937.0 485.4,936.1 486.7,935.2 488.1,934.2 489.4,933.3 490.7,932.3 492.0,931.4 493.4,930.4 494.7,929.5 496.0,928.5 497.2,927.6 M505.6,921.5 506.7,920.7 508.0,919.7 509.3,918.8 510.6,917.8 512.0,916.8 513.3,915.8 514.6,914.8 516.0,913.8 517.3,912.8 518.6,911.8 519.9,910.8 521.3,909.8 522.6,908.8 523.6,908.0 M529.7,903.3 530.6,902.6 531.9,901.6 533.2,900.6 534.6,899.5 535.9,898.5 537.2,897.4 538.5,896.4 539.9,895.3 541.2,894.3 542.5,893.2 543.9,892.2 545.2,891.1 546.5,890.1 547.4,889.4 M555.1,883.1 555.8,882.5 557.2,881.4 558.5,880.4 559.8,879.3 561.1,878.2 562.5,877.1 563.8,876.0 565.1,874.9 566.5,873.8 567.8,872.7 569.1,871.5 570.4,870.4 571.8,869.3 572.4,868.8 M579.2,863.0 581.1,861.4 582.4,860.2 583.7,859.1 585.1,857.9 586.4,856.8 587.7,855.6 589.0,854.5 590.4,853.3 591.7,852.2 593.0,851.0 594.4,849.8 596.2,848.2 M603.3,841.9 605.0,840.3 606.3,839.1 607.6,837.9 609.0,836.7 610.3,835.5 611.6,834.3 613.0,833.1 614.3,831.9 615.6,830.6 616.9,829.4 618.3,828.2 619.9,826.7 M627.4,819.6 628.9,818.2 630.2,817.0 631.6,815.7 632.9,814.4 634.2,813.2 635.5,811.9 636.9,810.6 638.2,809.3 639.5,808.1 640.9,806.8 642.2,805.5 643.6,804.1 M651.5,796.3 652.8,795.0 654.1,793.7 655.5,792.4 656.8,791.0 658.1,789.7 659.5,788.4 660.8,787.0 662.1,785.7 663.4,784.3 664.8,783.0 666.1,781.6 667.4,780.4 M674.3,773.2 675.4,772.1 676.7,770.7 678.1,769.3 679.4,767.9 680.7,766.5 682.0,765.1 683.4,763.7 684.7,762.3 686.0,760.9 687.4,759.5 688.7,758.1 689.8,756.9 M697.0,749.0 698.0,748.0 699.3,746.6 700.6,745.1 702.0,743.7 703.3,742.2 704.6,740.7 706.0,739.3 707.3,737.8 708.6,736.3 709.9,734.8 711.3,733.4 712.2,732.4 M719.8,723.7 720.6,722.9 721.9,721.3 723.2,719.8 724.6,718.3 725.9,716.8 727.2,715.2 728.5,713.7 729.9,712.2 731.2,710.6 732.5,709.1 733.9,707.5 734.6,706.7 M742.6,697.2 743.2,696.5 744.5,694.9 745.8,693.3 747.2,691.8 748.5,690.2 749.8,688.6 751.1,686.9 752.5,685.3 753.8,683.7 755.1,682.1 756.9,679.9 M764.0,671.1 765.8,669.0 767.1,667.3 768.4,665.6 769.7,664.0 771.1,662.3 772.4,660.6 773.7,658.9 775.1,657.2 776.4,655.6 778.0,653.5 M784.2,645.6 785.7,643.6 787.0,641.9 788.3,640.1 789.7,638.4 791.0,636.6 792.3,634.9 793.7,633.1 795.0,631.4 796.3,629.6 797.8,627.7 M805.6,617.2 806.9,615.4 808.3,613.6 809.6,611.7 810.9,609.9 812.3,608.1 813.6,606.3 814.9,604.5 816.2,602.6 817.6,600.8 818.9,599.0 M824.4,591.3 825.5,589.6 826.9,587.8 828.2,585.9 829.5,584.0 830.9,582.1 832.2,580.2 833.5,578.3 834.8,576.4 836.2,574.5 837.3,572.9 M844.5,562.5 845.5,561.0 846.8,559.1 848.1,557.1 849.5,555.1 850.8,553.2 852.1,551.2 853.4,549.2 854.8,547.2 856.1,545.3 857.1,543.8 M863.2,534.5 864.1,533.2 865.4,531.2 866.7,529.2 868.1,527.1 869.4,525.1 870.7,523.0 872.0,521.0 873.4,518.9 874.7,516.9 875.5,515.6 M880.7,507.6 881.3,506.5 882.7,504.4 884.0,502.3 885.3,500.2 886.7,498.1 888.0,495.9 889.3,493.8 890.6,491.7 892.0,489.5 892.6,488.5 M899.4,477.5 899.9,476.6 901.3,474.4 902.6,472.2 903.9,470.1 905.3,467.9 906.6,465.7 907.9,463.5 909.2,461.2 910.6,459.0 911.1,458.2 M915.5,450.8 917.2,447.8 918.5,445.6 919.9,443.3 921.2,441.1 922.5,438.8 923.9,436.5 925.2,434.2 926.9,431.3 M932.9,420.8 934.5,418.1 935.8,415.7 937.2,413.4 938.5,411.1 939.8,408.7 941.1,406.3 942.5,404.0 944.0,401.2 M949.0,392.3 950.4,389.7 951.8,387.2 953.1,384.8 954.4,382.4 955.8,380.0 957.1,377.5 958.4,375.1 959.8,372.5 M965.1,362.7 966.4,360.3 967.7,357.8 969.0,355.3 970.4,352.8 971.7,350.3 973.0,347.8 974.4,345.3 975.6,342.9 M981.2,332.3 982.3,330.0 983.7,327.4 985.0,324.8 986.3,322.3 987.6,319.7 989.0,317.1 990.3,314.5 991.4,312.2 M997.2,300.8 998.3,298.7 999.6,296.0 1000.9,293.4 1002.3,290.7 1003.6,288.0 1004.9,285.4 1006.2,282.7 1007.2,280.6 M1012.0,271.0 1012.9,269.1 1014.2,266.4 1015.5,263.6 1016.9,260.9 1018.2,258.1 1019.5,255.4 1020.9,252.6 1021.7,250.8 M1026.7,240.4 1027.5,238.6 1028.8,235.8 1030.2,233.0 1031.5,230.2 1032.8,227.3 1034.1,224.5 1035.5,221.6 1036.2,220.0 M1041.4,208.8 1042.1,207.3 1043.4,204.4 1044.8,201.5 1046.1,198.5 1047.4,195.6 1048.8,192.7 1050.1,189.8 1050.7,188.3 M1054.8,179.2 1055.4,177.9 1056.7,174.9 1058.1,172.0 1059.4,169.0 1060.7,166.0 1062.0,163.0 1063.4,159.9 1063.9,158.7 M1069.5,145.8 1070.0,144.7 1071.3,141.7 1072.7,138.6 1074.0,135.5 1075.3,132.4 1076.7,129.3 1078.0,126.2 1078.4,125.2 M1082.9,114.6 1083.3,113.7 1084.6,110.5 1086.0,107.4 1087.3,104.2 1088.6,101.0 1089.9,97.8 1091.3,94.7 1091.6,93.8"/>
<path d="M204.5,1173.6 206.6,1173.3 208.8,1172.9 211.1,1172.5 213.3,1172.1 215.6,1171.7 217.8,1171.2 220.0,1170.8 222.3,1170.4 224.5,1170.0 226.6,1169.6 M235.8,1167.9 237.9,1167.5 240.2,1167.0 242.4,1166.6 244.7,1166.2 246.9,1165.8 249.1,1165.3 251.4,1164.9 253.6,1164.5 255.9,1164.0 257.9,1163.6 M269.4,1161.4 271.5,1160.9 273.8,1160.5 276.0,1160.0 278.2,1159.6 280.5,1159.1 282.7,1158.7 285.0,1158.2 287.2,1157.8 289.4,1157.3 291.5,1156.9 M303.1,1154.5 305.1,1154.1 307.3,1153.6 309.6,1153.2 311.8,1152.7 314.1,1152.2 316.3,1151.7 318.5,1151.3 320.8,1150.8 323.0,1150.3 325.1,1149.9 M334.4,1147.8 336.4,1147.4 338.7,1146.9 340.9,1146.4 343.2,1145.9 345.4,1145.4 347.6,1144.9 349.9,1144.4 352.1,1143.9 354.4,1143.4 356.4,1143.0 M365.8,1140.8 367.8,1140.4 370.0,1139.9 372.3,1139.3 374.5,1138.8 376.7,1138.3 379.0,1137.8 381.2,1137.3 383.5,1136.7 385.7,1136.2 387.7,1135.7 M397.2,1133.5 399.1,1133.0 401.4,1132.5 403.6,1131.9 405.9,1131.4 408.1,1130.9 410.3,1130.3 412.6,1129.8 414.8,1129.2 417.0,1128.7 419.0,1128.2 M428.5,1125.8 430.5,1125.3 432.7,1124.8 435.0,1124.2 437.2,1123.6 439.4,1123.1 441.7,1122.5 443.9,1121.9 446.2,1121.3 448.4,1120.8 450.3,1120.3 M462.1,1117.2 464.1,1116.7 466.3,1116.1 468.5,1115.5 470.8,1114.9 473.0,1114.3 475.3,1113.7 477.5,1113.1 479.7,1112.5 482.0,1111.9 483.9,1111.3 M491.3,1109.3 493.2,1108.8 495.4,1108.2 497.6,1107.6 499.9,1106.9 502.1,1106.3 504.4,1105.7 506.6,1105.0 508.8,1104.4 511.1,1103.8 512.9,1103.2 M522.7,1100.5 524.5,1099.9 526.7,1099.3 529.0,1098.6 531.2,1098.0 533.5,1097.3 535.7,1096.7 537.9,1096.0 540.2,1095.3 542.4,1094.7 544.2,1094.1 M554.0,1091.2 555.9,1090.6 558.1,1090.0 560.3,1089.3 562.6,1088.6 564.8,1087.9 567.0,1087.2 569.3,1086.5 571.5,1085.8 573.8,1085.1 575.5,1084.6 M585.4,1081.4 587.2,1080.9 589.4,1080.2 591.7,1079.4 593.9,1078.7 596.1,1078.0 598.4,1077.3 600.6,1076.6 602.9,1075.8 605.1,1075.1 606.8,1074.5 M616.8,1071.2 618.5,1070.7 620.8,1069.9 623.0,1069.1 625.3,1068.4 627.5,1067.6 629.7,1066.9 632.0,1066.1 634.2,1065.3 636.4,1064.6 638.1,1064.0 M648.2,1060.5 649.9,1059.9 652.1,1059.1 654.4,1058.3 656.6,1057.6 658.8,1056.8 661.1,1056.0 663.3,1055.2 665.6,1054.4 667.8,1053.6 669.4,1053.0 M677.4,1050.1 679.0,1049.5 681.2,1048.7 683.5,1047.8 685.7,1047.0 687.9,1046.2 690.2,1045.3 692.4,1044.5 694.7,1043.7 696.9,1042.8 698.5,1042.2 M706.5,1039.2 708.1,1038.6 710.3,1037.7 712.6,1036.8 714.8,1036.0 717.0,1035.1 719.3,1034.2 721.5,1033.4 723.8,1032.5 726.0,1031.6 727.5,1031.0 M738.0,1026.8 739.4,1026.2 741.7,1025.3 743.9,1024.4 746.1,1023.5 748.4,1022.6 750.6,1021.7 752.9,1020.8 755.1,1019.9 757.3,1018.9 758.8,1018.3 M767.1,1014.9 768.5,1014.3 770.8,1013.3 773.0,1012.4 775.3,1011.4 777.5,1010.5 779.7,1009.5 782.0,1008.5 784.2,1007.6 786.4,1006.6 787.8,1006.0 M798.6,1001.3 799.9,1000.7 802.1,999.7 804.4,998.8 806.6,997.8 808.8,996.8 811.1,995.7 813.3,994.7 815.5,993.7 817.8,992.7 819.1,992.1 M827.7,988.2 829.0,987.6 831.2,986.5 833.5,985.5 835.7,984.5 837.9,983.4 840.2,982.4 842.4,981.3 844.7,980.2 846.9,979.2 848.1,978.6 M856.9,974.4 858.1,973.8 860.3,972.7 862.6,971.6 864.8,970.5 867.0,969.4 869.3,968.3 871.5,967.2 873.8,966.1 876.0,965.0 877.1,964.5 M883.9,961.1 885.0,960.5 887.2,959.4 889.4,958.3 891.7,957.1 893.9,956.0 896.1,954.8 898.4,953.7 900.6,952.5 902.9,951.4 903.9,950.8 M915.3,944.8 916.3,944.3 918.5,943.1 920.8,942.0 923.0,940.8 925.2,939.6 927.5,938.4 929.7,937.1 932.0,935.9 934.2,934.7 935.1,934.2 M942.3,930.3 943.2,929.8 945.4,928.6 947.6,927.3 949.9,926.1 952.1,924.8 954.4,923.6 956.6,922.3 958.8,921.0 961.1,919.8 961.9,919.3 M971.5,913.8 972.3,913.4 974.5,912.1 976.7,910.8 979.0,909.5 981.2,908.1 983.5,906.8 985.7,905.5 987.9,904.2 990.2,902.9 990.9,902.4 M1000.7,896.5 1003.6,894.8 1005.8,893.4 1008.1,892.1 1010.3,890.7 1012.6,889.3 1014.8,887.9 1017.0,886.6 1019.9,884.8 M1027.7,879.9 1030.5,878.1 1032.7,876.7 1035.0,875.3 1037.2,873.9 1039.4,872.4 1041.7,871.0 1043.9,869.5 1046.6,867.8 M1056.9,861.0 1059.6,859.3 1061.8,857.8 1064.1,856.3 1066.3,854.8 1068.5,853.3 1070.8,851.8 1073.0,850.3 1075.6,848.5 M1081.7,844.4 1084.2,842.7 1086.4,841.1 1088.7,839.6 1090.9,838.0 1093.2,836.5 1095.4,834.9 1097.6,833.3 1100.1,831.6 M1110.9,823.9 1113.3,822.2 1115.5,820.6 1117.8,818.9 1120.0,817.3 1122.3,815.7 1124.5,814.0 1126.7,812.4 1129.1,810.7 M1137.9,804.1 1140.2,802.4 1142.4,800.7 1144.7,799.0 1146.9,797.3 1149.1,795.6 1151.4,793.9 1153.6,792.2 1155.8,790.5 M1164.9,783.5 1167.0,781.8 1169.3,780.0 1171.5,778.3 1173.8,776.5 1176.0,774.7 1178.2,772.9 1180.5,771.2 1182.6,769.5 M1191.9,761.9 1193.9,760.3 1196.1,758.5 1198.4,756.6 1200.6,754.8 1202.9,752.9 1205.1,751.1 1207.3,749.2 1209.3,747.6 M1216.7,741.3 1218.5,739.8 1220.8,737.9 1223.0,736.0 1225.2,734.0 1227.5,732.1 1229.7,730.2 1232.0,728.3 1233.8,726.7 M1241.5,720.0 1243.2,718.5 1245.4,716.5 1247.6,714.5 1249.9,712.5 1252.1,710.5 1254.4,708.5 1256.6,706.5 1258.2,705.0 M1266.2,697.7 1267.8,696.3 1270.0,694.2 1272.3,692.2 1274.5,690.1 1276.7,688.0 1279.0,685.9 1281.2,683.9 1282.7,682.4 M1291.0,674.6 1292.4,673.3 1294.6,671.1 1296.9,669.0 1299.1,666.8 1301.4,664.7 1303.6,662.5 1305.8,660.3 1307.2,659.0 M1315.8,650.6 1317.0,649.3 1319.3,647.1 1321.5,644.9 1323.8,642.7 1326.0,640.4 1328.2,638.2 1330.5,635.9 1331.7,634.7 M1340.6,625.6 1341.7,624.5 1343.9,622.2 1346.1,619.8 1348.4,617.5 1350.6,615.2 1352.9,612.8 1355.1,610.5 1356.2,609.4 M1363.1,602.0 1364.1,601.0 1366.3,598.6 1368.5,596.2 1370.8,593.8 1373.0,591.4 1375.2,589.0 1377.5,586.5 1378.4,585.5 M1385.6,577.6 1386.4,576.7 1388.7,574.2 1390.9,571.8 1393.2,569.3 1395.4,566.8 1397.6,564.3 1399.9,561.7 1400.6,560.9 M1408.2,552.3 1408.8,551.6 1411.1,549.0 1413.3,546.4 1415.5,543.8 1417.8,541.2 1420.0,538.6 1422.3,536.0 1422.9,535.3 M1430.7,526.1 1431.2,525.5 1433.5,522.9 1435.7,520.2 1437.9,517.5 1440.2,514.8 1442.4,512.1 1445.1,508.9 M1451.0,501.7 1453.6,498.5 1455.8,495.8 1458.1,493.0 1460.3,490.2 1462.6,487.5 1465.1,484.2 M1471.3,476.6 1473.8,473.4 1476.0,470.6 1478.2,467.7 1480.5,464.9 1482.7,462.0 1485.1,458.9 M1491.5,450.6 1493.9,447.5 1496.1,444.6 1498.4,441.6 1500.6,438.7 1502.9,435.7 1505.2,432.7 M1511.8,423.7 1514.1,420.8 1516.3,417.7 1518.5,414.7 1520.8,411.7 1523.0,408.6 1525.2,405.6 M1532.1,396.1 1534.2,393.2 1536.4,390.0 1538.7,386.9 1540.9,383.8 1543.2,380.6 1545.2,377.7 M1552.4,367.5 1554.3,364.7 1556.6,361.5 1558.8,358.2 1561.1,355.0 1563.3,351.7 1565.2,349.0 M1572.7,338.0 1574.5,335.3 1576.7,332.0 1579.0,328.6 1581.2,325.3 1583.5,321.9 1585.2,319.3 M1590.7,311.0 1592.4,308.4 1594.6,305.0 1596.9,301.5 1599.1,298.1 1601.4,294.6 1603.0,292.1 M1608.8,283.2 1610.3,280.7 1612.6,277.2 1614.8,273.7 1617.0,270.1 1619.3,266.6 1620.8,264.2 M1624.5,258.2 1626.0,255.8 1628.2,252.2 1630.5,248.6 1632.7,245.0 1634.9,241.4 1636.4,239.1 M1642.6,228.9 1643.9,226.7 1646.1,223.0 1648.4,219.3 1650.6,215.5 1652.9,211.8 1654.2,209.6 M1660.6,198.8 1661.8,196.7 1664.0,192.9 1666.3,189.1 1668.5,185.2 1670.8,181.4 1671.9,179.3 M1678.6,167.8 1679.7,165.8 1682.0,161.9 1684.2,158.0 1686.4,154.0 1688.7,150.1 1689.7,148.2 M1696.6,135.9 1697.6,134.1 1699.9,130.1 1702.1,126.0 1704.3,122.0 1706.6,117.9 1707.5,116.2 M1712.4,107.2 1713.3,105.6 1715.5,101.5 1717.8,97.3 1720.0,93.2 1722.3,89.0 1723.1,87.4"/>
</g>
<g fill="#000">
<rect x="194" y="82" width="8" height="1206"/>
<rect x="194" y="1280" width="1932" height="8"/>
<rect x="182" y="1280.0" width="12" height="8"/>
<rect x="182" y="1160.2" width="12" height="8"/>
<rect x="182" y="1040.3" width="12" height="8"/>
<rect x="182" y="920.5" width="12" height="8"/>
<rect x="182" y="800.6" width="12" height="8"/>
<rect x="182" y="680.8" width="12" height="8"/>
<rect x="182" y="561.0" width="12" height="8"/>
<rect x="182" y="441.1" width="12" height="8"/>
<rect x="182" y="321.3" width="12" height="8"/>
<rect x="182" y="201.4" width="12" height="8"/>
<rect x="182" y="81.6" width="12" height="8"/>
<rect x="194.0" y="1288" width="8" height="12"/>
<rect x="386.5" y="1288" width="8" height="12"/>
<rect x="579.0" y="1288" width="8" height="12"/>
<rect x="771.4" y="1288" width="8" height="12"/>
<rect x="963.9" y="1288" width="8" height="12"/>
<rect x="1156.4" y="1288" width="8" height="12"/>
<rect x="1348.9" y="1288" width="8" height="12"/>
<rect x="1541.4" y="1288" width="8" height="12"/>
<rect x="1733.8" y="1288" width="8" height="12"/>
<rect x="1926.3" y="1288" width="8" height="12"/>
<rect x="2118.0" y="1288" width="8" height="12"/>
</g>
<g font-family="Liberation Serif, serif" font-weight="bold" font-size="55" fill="#000" stroke="#fff" stroke-width="1.1">
<text x="155.5" y="1302.3" text-anchor="end">0</text>
<text x="155.5" y="1182.5" text-anchor="end">2</text>
<text x="155.5" y="1062.6" text-anchor="end">4</text>
<text x="155.5" y="942.8" text-anchor="end">6</text>
<text x="155.5" y="822.9" text-anchor="end">8</text>
<text x="155.5" y="703.1" text-anchor="end">10</text>
<text x="155.5" y="583.3" text-anchor="end">12</text>
<text x="155.5" y="463.4" text-anchor="end">14</text>
<text x="155.5" y="343.6" text-anchor="end">16</text>
<text x="155.5" y="223.7" text-anchor="end">18</text>
<text x="155.5" y="103.9" text-anchor="end">20</text>
<text x="198.0" y="1363" text-anchor="middle">0</text>
<text x="390.5" y="1363" text-anchor="middle">10</text>
<text x="583.0" y="1363" text-anchor="middle">20</text>
<text x="775.4" y="1363" text-anchor="middle">30</text>
<text x="967.9" y="1363" text-anchor="middle">40</text>
<text x="1160.4" y="1363" text-anchor="middle">50</text>
<text x="1352.9" y="1363" text-anchor="middle">60</text>
<text x="1545.4" y="1363" text-anchor="middle">70</text>
<text x="1737.8" y="1363" text-anchor="middle">80</text>
<text x="1930.3" y="1363" text-anchor="middle">90</text>
<text x="2122.8" y="1363" text-anchor="middle">100</text>
</g>
<g font-family="Liberation Serif, serif" font-weight="bold" fill="#000">
<text x="207.4" y="227.5" font-size="61" textLength="135.4" lengthAdjust="spacing" stroke="#F98073" stroke-width="1.1">Cave</text>
<text x="207.2" y="301.5" font-size="61" textLength="121" lengthAdjust="spacing" stroke="#F98073" stroke-width="1.1">zone</text>
<text x="376.2" y="229.5" font-size="61" textLength="654.2" lengthAdjust="spacing" stroke="#FDBD7A" stroke-width="1.1">Advance support mining</text>
<text x="375" y="306" font-size="61" textLength="195.8" lengthAdjust="spacing" stroke="#FDBD7A" stroke-width="1.1">method</text>
<text x="1111.1" y="226.5" font-size="61" textLength="387.4" lengthAdjust="spacing" stroke="#80AED3" stroke-width="1.1">Filling method</text>
<text x="1698.2" y="226" font-size="61" textLength="354.3" lengthAdjust="spacing" stroke="#8ECEC8" stroke-width="1.1">Open stoping</text>
<text x="1699.2" y="302" font-size="61" textLength="198" lengthAdjust="spacing" stroke="#8ECEC8" stroke-width="1.1">method</text>
<text x="1472" y="912" font-size="61" textLength="303.2" lengthAdjust="spacing" stroke="#8ECEC8" stroke-width="1.1">Stable zone</text>
<text x="401.7" y="149.5" font-size="54" textLength="206" lengthAdjust="spacing" font-weight="normal" stroke="#000" stroke-width="1.3">y = 5.14e</text>
<text x="609" y="133" font-size="35" textLength="102" lengthAdjust="spacing" font-weight="normal" stroke="#000" stroke-width="0.8">0.140x</text>
<text x="1158.7" y="146" font-size="54" textLength="206" lengthAdjust="spacing" font-weight="normal" stroke="#000" stroke-width="1.3">y = 3.25e</text>
<text x="1365" y="128.5" font-size="35" textLength="103" lengthAdjust="spacing" font-weight="normal" stroke="#000" stroke-width="0.8">0.039x</text>
<text x="1731.7" y="146" font-size="54" textLength="206" lengthAdjust="spacing" font-weight="normal" stroke="#000" stroke-width="1.3">y = 1.85e</text>
<text x="1938.5" y="128.5" font-size="35" textLength="101.5" lengthAdjust="spacing" font-weight="normal" stroke="#000" stroke-width="0.8">0.030x</text>
<text font-size="60" transform="translate(389.4,782.6) rotate(-50.7)" textLength="585" lengthAdjust="spacing" stroke="#FDBD7A" stroke-width="1.2">Support stability zone</text>
<text font-size="60" transform="translate(812.6,898.5) rotate(-48.55)" textLength="658" lengthAdjust="spacing" stroke="#80AED3" stroke-width="1.2">Potentially unstable zone</text>
<text x="887.7" y="1450" font-size="61" textLength="541.3" lengthAdjust="spacing" stroke="#fff" stroke-width="1.1">Stability Number N'</text>
<text font-size="61" transform="translate(61,953.3) rotate(-90)" textLength="539" lengthAdjust="spacing" stroke="#fff" stroke-width="1.1">Hydraulic Radius/m</text>
</g>
<g font-family="Liberation Serif, serif" font-size="80" fill="#000">
<text x="636.6" y="1627" textLength="85.0" lengthAdjust="spacing">(<tspan font-weight="bold">c</tspan>)</text>
<text x="738.2" y="1627" textLength="324.4" lengthAdjust="spacing">Improved</text>
<text x="1085.4" y="1627" textLength="266.5" lengthAdjust="spacing">stability</text>
<text x="1374.4" y="1627" textLength="195.1" lengthAdjust="spacing">graph</text>
</g>
</svg>
</body></html>
